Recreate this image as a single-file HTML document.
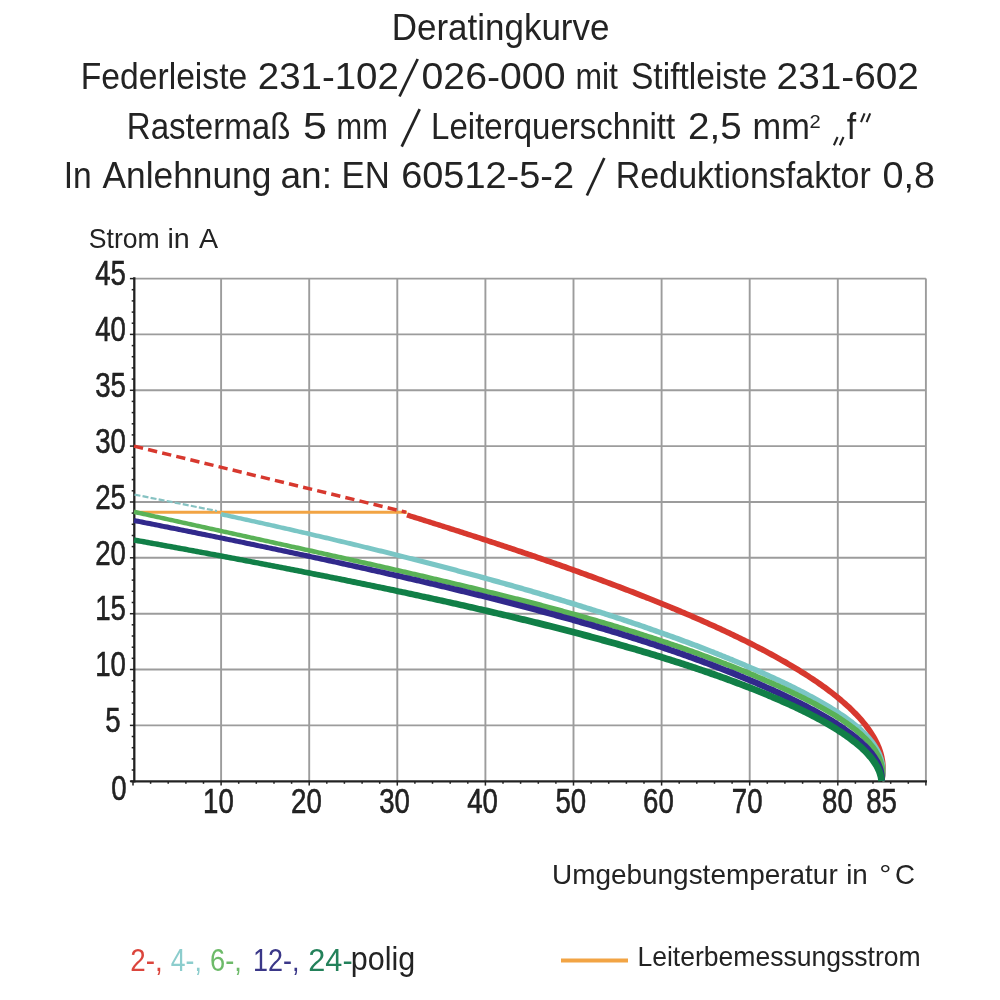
<!DOCTYPE html>
<html><head><meta charset="utf-8"><title>Deratingkurve</title>
<style>
html,body{margin:0;padding:0;background:#fff;}
body{width:1000px;height:1000px;overflow:hidden;font-family:"Liberation Sans",sans-serif;}
svg{display:block;will-change:transform}
text{font-family:"Liberation Sans",sans-serif;fill:#232323}
.t{font-size:35.5px}
.s{font-size:27.5px}
.n{font-size:35px;fill:#151515;stroke:#151515;stroke-width:0.55px}
</style></head><body>
<svg width="1000" height="1000" viewBox="0 0 1000 1000">
<rect width="1000" height="1000" fill="#fff"/>
<!-- text -->
<text x="391.8" y="40.3" font-size="37" textLength="217.6" lengthAdjust="spacingAndGlyphs">Deratingkurve</text>
<text x="80.8" y="88.5" font-size="37" textLength="166.4" lengthAdjust="spacingAndGlyphs">Federleiste</text>
<text x="257.8" y="88.5" font-size="37" textLength="141.1" lengthAdjust="spacingAndGlyphs">231-102</text>
<text x="421.5" y="88.5" font-size="37" textLength="144.0" lengthAdjust="spacingAndGlyphs">026-000</text>
<text x="575.4" y="88.5" font-size="37" textLength="42.5" lengthAdjust="spacingAndGlyphs">mit</text>
<text x="631.0" y="88.5" font-size="37" textLength="136.1" lengthAdjust="spacingAndGlyphs">Stiftleiste</text>
<text x="776.6" y="88.5" font-size="37" textLength="142.3" lengthAdjust="spacingAndGlyphs">231-602</text>
<text x="126.8" y="138.6" font-size="37" textLength="163.6" lengthAdjust="spacingAndGlyphs">Rastermaß</text>
<text x="302.9" y="138.6" font-size="37" textLength="23.9" lengthAdjust="spacingAndGlyphs">5</text>
<text x="336.6" y="138.6" font-size="37" textLength="51.3" lengthAdjust="spacingAndGlyphs">mm</text>
<text x="431.1" y="138.6" font-size="37" textLength="244.1" lengthAdjust="spacingAndGlyphs">Leiterquerschnitt</text>
<text x="688.1" y="138.6" font-size="37" textLength="53.7" lengthAdjust="spacingAndGlyphs">2,5</text>
<text x="752.5" y="138.6" font-size="37" textLength="57.3" lengthAdjust="spacingAndGlyphs">mm</text>
<text x="809.5" y="127.8" font-size="18" textLength="11.2" lengthAdjust="spacingAndGlyphs">2</text>
<text x="846.7" y="138.6" font-size="37" textLength="9.4" lengthAdjust="spacingAndGlyphs">f</text>
<text x="63.8" y="187.5" font-size="37" textLength="28.0" lengthAdjust="spacingAndGlyphs">In</text>
<text x="102.5" y="187.5" font-size="37" textLength="168.9" lengthAdjust="spacingAndGlyphs">Anlehnung</text>
<text x="280.5" y="187.5" font-size="37" textLength="51.5" lengthAdjust="spacingAndGlyphs">an:</text>
<text x="341.5" y="187.5" font-size="37" textLength="48.3" lengthAdjust="spacingAndGlyphs">EN</text>
<text x="401.2" y="187.5" font-size="37" textLength="172.8" lengthAdjust="spacingAndGlyphs">60512-5-2</text>
<text x="615.8" y="187.5" font-size="37" textLength="255.0" lengthAdjust="spacingAndGlyphs">Reduktionsfaktor</text>
<text x="882.4" y="187.5" font-size="37" textLength="52.5" lengthAdjust="spacingAndGlyphs">0,8</text>
<text x="88.8" y="248.4" font-size="28" textLength="70.9" lengthAdjust="spacingAndGlyphs">Strom</text>
<text x="167.5" y="248.4" font-size="28" textLength="22.3" lengthAdjust="spacingAndGlyphs">in</text>
<text x="198.9" y="248.4" font-size="28" textLength="19.1" lengthAdjust="spacingAndGlyphs">A</text>
<text x="552.0" y="884.0" font-size="28" textLength="285.7" lengthAdjust="spacingAndGlyphs">Umgebungstemperatur</text>
<text x="846.2" y="884.0" font-size="28" textLength="21.6" lengthAdjust="spacingAndGlyphs">in</text>
<text x="879.3" y="884.0" font-size="28" textLength="12.1" lengthAdjust="spacingAndGlyphs">°</text>
<text x="895.1" y="884.0" font-size="28" textLength="20.0" lengthAdjust="spacingAndGlyphs">C</text>
<text x="637.4" y="965.5" font-size="28" textLength="283.3" lengthAdjust="spacingAndGlyphs">Leiterbemessungsstrom</text>
<text x="130.3" y="970.8" font-size="31" textLength="32.4" lengthAdjust="spacingAndGlyphs" style="fill:#db453c">2-,</text>
<text x="170.8" y="970.8" font-size="31" textLength="31.0" lengthAdjust="spacingAndGlyphs" style="fill:#8ccdcd">4-,</text>
<text x="210.0" y="970.8" font-size="31" textLength="31.8" lengthAdjust="spacingAndGlyphs" style="fill:#6dba69">6-,</text>
<text x="253.1" y="970.8" font-size="31" textLength="46.5" lengthAdjust="spacingAndGlyphs" style="fill:#3a3788">12-,</text>
<text x="308.3" y="970.8" font-size="31" textLength="44.3" lengthAdjust="spacingAndGlyphs" style="fill:#23815a">24-</text>
<text x="350.8" y="969.8" font-size="33" textLength="64.4" lengthAdjust="spacingAndGlyphs">polig</text>
<line x1="399.5" y1="96.5" x2="417.7" y2="59.0" stroke="#232323" stroke-width="2.7"/>
<line x1="401.7" y1="146.6" x2="419.7" y2="109.1" stroke="#232323" stroke-width="2.7"/>
<line x1="586.9" y1="195.5" x2="604.3" y2="158.0" stroke="#232323" stroke-width="2.7"/>
<line x1="861.0" y1="122.2" x2="864.6" y2="113.4" stroke="#232323" stroke-width="2.1"/>
<line x1="866.6" y1="122.2" x2="870.2" y2="113.4" stroke="#232323" stroke-width="2.1"/>
<line x1="833.9" y1="145.3" x2="837.6" y2="137.0" stroke="#232323" stroke-width="2.1"/>
<line x1="839.8" y1="145.3" x2="843.5" y2="137.0" stroke="#232323" stroke-width="2.1"/>
<!-- grid -->
<g stroke="#9c9c9c" stroke-width="1.9" fill="none">
<line x1="221.1" y1="278.6" x2="221.1" y2="781.2"/>
<line x1="309.2" y1="278.6" x2="309.2" y2="781.2"/>
<line x1="397.3" y1="278.6" x2="397.3" y2="781.2"/>
<line x1="485.4" y1="278.6" x2="485.4" y2="781.2"/>
<line x1="573.5" y1="278.6" x2="573.5" y2="781.2"/>
<line x1="661.6" y1="278.6" x2="661.6" y2="781.2"/>
<line x1="749.7" y1="278.6" x2="749.7" y2="781.2"/>
<line x1="837.8" y1="278.6" x2="837.8" y2="781.2"/>
<line x1="925.9" y1="278.6" x2="925.9" y2="781.2"/>
<line x1="133.0" y1="725.4" x2="925.9" y2="725.4"/>
<line x1="133.0" y1="669.5" x2="925.9" y2="669.5"/>
<line x1="133.0" y1="613.7" x2="925.9" y2="613.7"/>
<line x1="133.0" y1="557.8" x2="925.9" y2="557.8"/>
<line x1="133.0" y1="502.0" x2="925.9" y2="502.0"/>
<line x1="133.0" y1="446.1" x2="925.9" y2="446.1"/>
<line x1="133.0" y1="390.3" x2="925.9" y2="390.3"/>
<line x1="133.0" y1="334.4" x2="925.9" y2="334.4"/>
<line x1="133.0" y1="278.6" x2="925.9" y2="278.6"/>
</g>
<!-- axes -->
<g stroke="#222" stroke-width="2.3" fill="none" stroke-linecap="butt">
<line x1="134.3" y1="277.3" x2="134.3" y2="782.5"/>
<line x1="130.5" y1="781.4" x2="927" y2="781.4"/>
</g>
<g stroke="#222" stroke-width="1.5" fill="none">
<line x1="129.9" y1="781.2" x2="134.5" y2="781.2"/>
<line x1="131.7" y1="770.0" x2="134.5" y2="770.0"/>
<line x1="131.7" y1="758.9" x2="134.5" y2="758.9"/>
<line x1="131.7" y1="747.7" x2="134.5" y2="747.7"/>
<line x1="131.7" y1="736.5" x2="134.5" y2="736.5"/>
<line x1="129.9" y1="725.4" x2="134.5" y2="725.4"/>
<line x1="131.7" y1="714.2" x2="134.5" y2="714.2"/>
<line x1="131.7" y1="703.0" x2="134.5" y2="703.0"/>
<line x1="131.7" y1="691.8" x2="134.5" y2="691.8"/>
<line x1="131.7" y1="680.7" x2="134.5" y2="680.7"/>
<line x1="129.9" y1="669.5" x2="134.5" y2="669.5"/>
<line x1="131.7" y1="658.3" x2="134.5" y2="658.3"/>
<line x1="131.7" y1="647.2" x2="134.5" y2="647.2"/>
<line x1="131.7" y1="636.0" x2="134.5" y2="636.0"/>
<line x1="131.7" y1="624.8" x2="134.5" y2="624.8"/>
<line x1="129.9" y1="613.7" x2="134.5" y2="613.7"/>
<line x1="131.7" y1="602.5" x2="134.5" y2="602.5"/>
<line x1="131.7" y1="591.3" x2="134.5" y2="591.3"/>
<line x1="131.7" y1="580.1" x2="134.5" y2="580.1"/>
<line x1="131.7" y1="569.0" x2="134.5" y2="569.0"/>
<line x1="129.9" y1="557.8" x2="134.5" y2="557.8"/>
<line x1="131.7" y1="546.6" x2="134.5" y2="546.6"/>
<line x1="131.7" y1="535.5" x2="134.5" y2="535.5"/>
<line x1="131.7" y1="524.3" x2="134.5" y2="524.3"/>
<line x1="131.7" y1="513.1" x2="134.5" y2="513.1"/>
<line x1="129.9" y1="502.0" x2="134.5" y2="502.0"/>
<line x1="131.7" y1="490.8" x2="134.5" y2="490.8"/>
<line x1="131.7" y1="479.6" x2="134.5" y2="479.6"/>
<line x1="131.7" y1="468.4" x2="134.5" y2="468.4"/>
<line x1="131.7" y1="457.3" x2="134.5" y2="457.3"/>
<line x1="129.9" y1="446.1" x2="134.5" y2="446.1"/>
<line x1="131.7" y1="434.9" x2="134.5" y2="434.9"/>
<line x1="131.7" y1="423.8" x2="134.5" y2="423.8"/>
<line x1="131.7" y1="412.6" x2="134.5" y2="412.6"/>
<line x1="131.7" y1="401.4" x2="134.5" y2="401.4"/>
<line x1="129.9" y1="390.3" x2="134.5" y2="390.3"/>
<line x1="131.7" y1="379.1" x2="134.5" y2="379.1"/>
<line x1="131.7" y1="367.9" x2="134.5" y2="367.9"/>
<line x1="131.7" y1="356.7" x2="134.5" y2="356.7"/>
<line x1="131.7" y1="345.6" x2="134.5" y2="345.6"/>
<line x1="129.9" y1="334.4" x2="134.5" y2="334.4"/>
<line x1="131.7" y1="323.2" x2="134.5" y2="323.2"/>
<line x1="131.7" y1="312.1" x2="134.5" y2="312.1"/>
<line x1="131.7" y1="300.9" x2="134.5" y2="300.9"/>
<line x1="131.7" y1="289.7" x2="134.5" y2="289.7"/>
<line x1="129.9" y1="278.6" x2="134.5" y2="278.6"/>
<line x1="133.0" y1="781.2" x2="133.0" y2="785.6"/>
<line x1="150.6" y1="781.2" x2="150.6" y2="783.8"/>
<line x1="168.2" y1="781.2" x2="168.2" y2="783.8"/>
<line x1="185.9" y1="781.2" x2="185.9" y2="783.8"/>
<line x1="203.5" y1="781.2" x2="203.5" y2="783.8"/>
<line x1="221.1" y1="781.2" x2="221.1" y2="785.6"/>
<line x1="238.7" y1="781.2" x2="238.7" y2="783.8"/>
<line x1="256.3" y1="781.2" x2="256.3" y2="783.8"/>
<line x1="274.0" y1="781.2" x2="274.0" y2="783.8"/>
<line x1="291.6" y1="781.2" x2="291.6" y2="783.8"/>
<line x1="309.2" y1="781.2" x2="309.2" y2="785.6"/>
<line x1="326.8" y1="781.2" x2="326.8" y2="783.8"/>
<line x1="344.4" y1="781.2" x2="344.4" y2="783.8"/>
<line x1="362.1" y1="781.2" x2="362.1" y2="783.8"/>
<line x1="379.7" y1="781.2" x2="379.7" y2="783.8"/>
<line x1="397.3" y1="781.2" x2="397.3" y2="785.6"/>
<line x1="414.9" y1="781.2" x2="414.9" y2="783.8"/>
<line x1="432.5" y1="781.2" x2="432.5" y2="783.8"/>
<line x1="450.2" y1="781.2" x2="450.2" y2="783.8"/>
<line x1="467.8" y1="781.2" x2="467.8" y2="783.8"/>
<line x1="485.4" y1="781.2" x2="485.4" y2="785.6"/>
<line x1="503.0" y1="781.2" x2="503.0" y2="783.8"/>
<line x1="520.6" y1="781.2" x2="520.6" y2="783.8"/>
<line x1="538.3" y1="781.2" x2="538.3" y2="783.8"/>
<line x1="555.9" y1="781.2" x2="555.9" y2="783.8"/>
<line x1="573.5" y1="781.2" x2="573.5" y2="785.6"/>
<line x1="591.1" y1="781.2" x2="591.1" y2="783.8"/>
<line x1="608.7" y1="781.2" x2="608.7" y2="783.8"/>
<line x1="626.4" y1="781.2" x2="626.4" y2="783.8"/>
<line x1="644.0" y1="781.2" x2="644.0" y2="783.8"/>
<line x1="661.6" y1="781.2" x2="661.6" y2="785.6"/>
<line x1="679.2" y1="781.2" x2="679.2" y2="783.8"/>
<line x1="696.8" y1="781.2" x2="696.8" y2="783.8"/>
<line x1="714.5" y1="781.2" x2="714.5" y2="783.8"/>
<line x1="732.1" y1="781.2" x2="732.1" y2="783.8"/>
<line x1="749.7" y1="781.2" x2="749.7" y2="785.6"/>
<line x1="767.3" y1="781.2" x2="767.3" y2="783.8"/>
<line x1="784.9" y1="781.2" x2="784.9" y2="783.8"/>
<line x1="802.6" y1="781.2" x2="802.6" y2="783.8"/>
<line x1="820.2" y1="781.2" x2="820.2" y2="783.8"/>
<line x1="837.8" y1="781.2" x2="837.8" y2="785.6"/>
<line x1="855.4" y1="781.2" x2="855.4" y2="783.8"/>
<line x1="873.0" y1="781.2" x2="873.0" y2="783.8"/>
<line x1="890.7" y1="781.2" x2="890.7" y2="783.8"/>
<line x1="908.3" y1="781.2" x2="908.3" y2="783.8"/>
<line x1="925.9" y1="781.2" x2="925.9" y2="785.6"/>
</g>
<!-- rated current -->
<line x1="134" y1="512.2" x2="407" y2="512.2" stroke="#f2a444" stroke-width="3"/>
<!-- dashed extrapolations -->
<line x1="134" y1="446.1" x2="406" y2="512.2" stroke="#d7382e" stroke-width="3.5" stroke-dasharray="9.3 5.2"/>
<line x1="134.5" y1="494.6" x2="217" y2="511" stroke="#86c2c2" stroke-width="2.2" stroke-dasharray="6 2.2"/>
<!-- curves -->
<g stroke="none">
<path d="M406.2 517.5 L408.1 518.1 L410.0 518.7 L412.0 519.3 L413.9 519.9 L415.8 520.5 L417.7 521.1 L419.6 521.7 L421.5 522.3 L423.4 522.9 L425.3 523.5 L427.2 524.1 L429.1 524.7 L431.0 525.3 L432.9 525.9 L434.8 526.5 L436.7 527.1 L438.6 527.7 L440.5 528.3 L442.4 528.9 L444.3 529.5 L446.2 530.1 L448.1 530.8 L450.0 531.4 L451.9 532.0 L453.8 532.6 L455.7 533.2 L457.6 533.8 L459.5 534.4 L461.4 535.0 L463.3 535.7 L465.2 536.3 L467.1 536.9 L469.0 537.5 L470.9 538.1 L472.8 538.8 L474.7 539.4 L476.6 540.0 L478.5 540.6 L480.4 541.2 L482.3 541.9 L484.2 542.5 L486.1 543.1 L488.0 543.7 L489.9 544.4 L491.8 545.0 L493.7 545.6 L495.6 546.3 L497.5 546.9 L499.4 547.5 L501.2 548.2 L503.1 548.8 L505.0 549.4 L506.9 550.1 L508.8 550.7 L510.7 551.3 L512.6 552.0 L514.5 552.6 L516.4 553.3 L518.3 553.9 L520.2 554.6 L522.0 555.2 L523.9 555.8 L525.8 556.5 L527.7 557.1 L529.6 557.8 L531.5 558.4 L533.4 559.1 L535.3 559.7 L537.2 560.4 L539.0 561.0 L540.9 561.7 L542.8 562.3 L544.7 563.0 L546.6 563.7 L548.5 564.3 L550.4 565.0 L552.2 565.6 L554.1 566.3 L556.0 567.0 L557.9 567.6 L559.8 568.3 L561.6 568.9 L563.5 569.6 L565.4 570.3 L567.3 570.9 L569.2 571.6 L571.1 572.3 L572.9 573.0 L574.8 573.6 L576.7 574.3 L578.6 575.0 L580.4 575.7 L582.3 576.3 L584.2 577.0 L586.1 577.7 L587.9 578.4 L589.8 579.1 L591.7 579.8 L593.6 580.4 L595.4 581.1 L597.3 581.8 L599.2 582.5 L601.1 583.2 L602.9 583.9 L604.8 584.6 L606.7 585.3 L608.5 586.0 L610.4 586.7 L612.3 587.4 L614.1 588.1 L616.0 588.8 L617.9 589.5 L619.7 590.2 L621.6 590.9 L623.5 591.7 L625.3 592.4 L627.2 593.1 L629.0 593.8 L630.9 594.5 L632.8 595.2 L634.6 596.0 L636.5 596.7 L638.3 597.4 L640.2 598.2 L642.1 598.9 L643.9 599.6 L645.8 600.4 L647.6 601.1 L649.5 601.8 L651.3 602.6 L653.2 603.3 L655.0 604.1 L656.9 604.8 L658.7 605.5 L660.6 606.3 L662.4 607.1 L664.3 607.8 L666.1 608.6 L668.0 609.3 L669.8 610.1 L671.6 610.9 L673.5 611.6 L675.3 612.4 L677.2 613.2 L679.0 613.9 L680.8 614.7 L682.7 615.5 L684.5 616.3 L686.3 617.1 L688.2 617.8 L690.0 618.6 L691.8 619.4 L693.7 620.2 L695.5 621.0 L697.3 621.8 L699.1 622.6 L701.0 623.4 L702.8 624.2 L704.6 625.0 L706.4 625.8 L708.2 626.7 L710.1 627.5 L711.9 628.3 L713.7 629.1 L715.5 629.9 L717.3 630.8 L719.1 631.6 L720.9 632.4 L722.7 633.3 L724.5 634.1 L726.4 635.0 L728.2 635.8 L730.0 636.7 L731.8 637.5 L733.5 638.4 L735.3 639.3 L737.1 640.1 L738.9 641.0 L740.7 641.9 L742.5 642.8 L744.3 643.6 L746.1 644.5 L747.9 645.4 L749.6 646.3 L751.4 647.2 L753.2 648.1 L755.0 649.0 L756.7 649.9 L758.5 650.9 L760.3 651.8 L762.0 652.7 L763.8 653.6 L765.5 654.6 L767.3 655.5 L769.0 656.4 L770.8 657.4 L772.5 658.3 L774.3 659.3 L776.0 660.3 L777.8 661.2 L779.5 662.2 L781.2 663.2 L782.9 664.2 L784.7 665.2 L786.4 666.2 L788.1 667.2 L789.8 668.2 L791.5 669.2 L793.2 670.2 L794.9 671.2 L796.6 672.3 L798.3 673.3 L800.0 674.4 L801.7 675.4 L803.4 676.5 L805.0 677.6 L806.7 678.6 L808.4 679.7 L810.0 680.8 L811.7 681.9 L813.3 683.0 L815.0 684.1 L816.6 685.3 L818.2 686.4 L819.8 687.5 L821.4 688.7 L823.0 689.8 L824.6 691.0 L826.2 692.2 L827.8 693.4 L829.4 694.6 L831.0 695.8 L832.5 697.0 L834.1 698.2 L835.6 699.5 L837.1 700.7 L838.6 702.0 L840.1 703.3 L841.6 704.6 L843.1 705.9 L844.6 707.2 L846.0 708.5 L847.5 709.8 L848.9 711.2 L850.3 712.6 L851.7 714.0 L853.1 715.4 L854.5 716.8 L855.8 718.2 L857.1 719.6 L858.4 721.1 L859.7 722.6 L861.0 724.1 L862.2 725.6 L863.4 727.1 L864.6 728.7 L865.7 730.2 L866.9 731.8 L868.0 733.4 L869.0 735.1 L870.1 736.7 L871.0 738.4 L872.0 740.0 L872.9 741.7 L873.8 743.5 L874.6 745.2 L875.4 747.0 L876.1 748.7 L876.7 750.5 L877.4 752.3 L877.9 754.2 L878.4 756.0 L878.9 757.8 L879.2 759.7 L879.5 761.6 L879.8 763.5 L879.9 765.3 L880.0 767.2 L880.1 769.1 L880.0 771.0 L879.9 772.9 L879.7 774.8 L879.5 776.6 L879.2 778.5 L878.8 780.4 L884.4 781.6 L884.9 779.6 L885.2 777.5 L885.5 775.4 L885.7 773.3 L885.8 771.2 L885.9 769.1 L885.8 767.0 L885.7 764.9 L885.5 762.8 L885.3 760.7 L884.9 758.7 L884.5 756.6 L884.0 754.6 L883.5 752.5 L882.9 750.5 L882.2 748.6 L881.5 746.6 L880.7 744.7 L879.9 742.8 L879.0 740.9 L878.0 739.1 L877.1 737.2 L876.1 735.5 L875.0 733.7 L873.9 731.9 L872.8 730.2 L871.6 728.5 L870.4 726.8 L869.2 725.2 L868.0 723.6 L866.7 722.0 L865.4 720.4 L864.1 718.8 L862.8 717.3 L861.4 715.8 L860.1 714.3 L858.7 712.8 L857.3 711.3 L855.8 709.9 L854.4 708.4 L852.9 707.0 L851.5 705.6 L850.0 704.2 L848.5 702.9 L847.0 701.5 L845.4 700.2 L843.9 698.9 L842.4 697.6 L840.8 696.3 L839.3 695.0 L837.7 693.7 L836.1 692.5 L834.5 691.2 L832.9 690.0 L831.3 688.8 L829.7 687.5 L828.1 686.3 L826.5 685.1 L824.8 684.0 L823.2 682.8 L821.5 681.6 L819.9 680.5 L818.2 679.3 L816.6 678.2 L814.9 677.1 L813.2 676.0 L811.5 674.9 L809.9 673.8 L808.2 672.7 L806.5 671.6 L804.8 670.5 L803.1 669.5 L801.4 668.4 L799.7 667.3 L797.9 666.3 L796.2 665.2 L794.5 664.2 L792.8 663.2 L791.0 662.2 L789.3 661.2 L787.6 660.1 L785.8 659.1 L784.1 658.2 L782.3 657.2 L780.6 656.2 L778.8 655.2 L777.1 654.2 L775.3 653.3 L773.6 652.3 L771.8 651.3 L770.0 650.4 L768.3 649.4 L766.5 648.5 L764.7 647.6 L762.9 646.6 L761.2 645.7 L759.4 644.8 L757.6 643.9 L755.8 643.0 L754.0 642.0 L752.2 641.1 L750.5 640.2 L748.7 639.3 L746.9 638.4 L745.1 637.6 L743.3 636.7 L741.5 635.8 L739.7 634.9 L737.9 634.0 L736.1 633.2 L734.3 632.3 L732.4 631.4 L730.6 630.6 L728.8 629.7 L727.0 628.9 L725.2 628.0 L723.4 627.2 L721.6 626.3 L719.7 625.5 L717.9 624.7 L716.1 623.8 L714.3 623.0 L712.4 622.2 L710.6 621.4 L708.8 620.5 L707.0 619.7 L705.1 618.9 L703.3 618.1 L701.5 617.3 L699.6 616.5 L697.8 615.7 L696.0 614.9 L694.1 614.1 L692.3 613.3 L690.5 612.5 L688.6 611.7 L686.8 610.9 L684.9 610.1 L683.1 609.4 L681.2 608.6 L679.4 607.8 L677.6 607.0 L675.7 606.3 L673.9 605.5 L672.0 604.7 L670.2 604.0 L668.3 603.2 L666.5 602.4 L664.6 601.7 L662.8 600.9 L660.9 600.2 L659.0 599.4 L657.2 598.7 L655.3 597.9 L653.5 597.2 L651.6 596.4 L649.8 595.7 L647.9 595.0 L646.0 594.2 L644.2 593.5 L642.3 592.8 L640.5 592.0 L638.6 591.3 L636.7 590.6 L634.9 589.8 L633.0 589.1 L631.1 588.4 L629.3 587.7 L627.4 587.0 L625.5 586.2 L623.7 585.5 L621.8 584.8 L619.9 584.1 L618.1 583.4 L616.2 582.7 L614.3 582.0 L612.4 581.3 L610.6 580.6 L608.7 579.9 L606.8 579.2 L604.9 578.5 L603.1 577.8 L601.2 577.1 L599.3 576.4 L597.4 575.7 L595.6 575.0 L593.7 574.3 L591.8 573.6 L589.9 572.9 L588.1 572.3 L586.2 571.6 L584.3 570.9 L582.4 570.2 L580.5 569.5 L578.7 568.8 L576.8 568.2 L574.9 567.5 L573.0 566.8 L571.1 566.2 L569.2 565.5 L567.4 564.8 L565.5 564.1 L563.6 563.5 L561.7 562.8 L559.8 562.1 L557.9 561.5 L556.0 560.8 L554.2 560.2 L552.3 559.5 L550.4 558.8 L548.5 558.2 L546.6 557.5 L544.7 556.9 L542.8 556.2 L540.9 555.6 L539.0 554.9 L537.1 554.3 L535.3 553.6 L533.4 553.0 L531.5 552.3 L529.6 551.7 L527.7 551.1 L525.8 550.4 L523.9 549.8 L522.0 549.1 L520.1 548.5 L518.2 547.9 L516.3 547.2 L514.4 546.6 L512.5 546.0 L510.6 545.3 L508.7 544.7 L506.8 544.1 L504.9 543.4 L503.0 542.8 L501.1 542.2 L499.2 541.6 L497.3 540.9 L495.4 540.3 L493.5 539.7 L491.6 539.1 L489.7 538.4 L487.8 537.8 L485.9 537.2 L484.0 536.6 L482.1 536.0 L480.2 535.3 L478.3 534.7 L476.4 534.1 L474.5 533.5 L472.6 532.9 L470.7 532.3 L468.8 531.7 L466.9 531.1 L465.0 530.4 L463.1 529.8 L461.2 529.2 L459.3 528.6 L457.4 528.0 L455.5 527.4 L453.6 526.8 L451.7 526.2 L449.8 525.6 L447.9 525.0 L446.0 524.4 L444.0 523.8 L442.1 523.2 L440.2 522.6 L438.3 522.0 L436.4 521.4 L434.5 520.8 L432.6 520.2 L430.7 519.6 L428.8 519.0 L426.9 518.4 L425.0 517.8 L423.1 517.2 L421.2 516.6 L419.2 516.0 L417.3 515.4 L415.4 514.8 L413.5 514.3 L411.6 513.7 L409.7 513.1 L407.8 512.5Z" fill="#d7382e"/>
<path d="M220.5 516.4 L222.5 516.8 L224.4 517.2 L226.4 517.6 L228.3 518.0 L230.3 518.5 L232.2 518.9 L234.2 519.3 L236.1 519.7 L238.1 520.2 L240.1 520.6 L242.0 521.0 L244.0 521.5 L245.9 521.9 L247.9 522.3 L249.8 522.7 L251.8 523.2 L253.7 523.6 L255.7 524.0 L257.6 524.5 L259.6 524.9 L261.5 525.3 L263.5 525.8 L265.4 526.2 L267.4 526.7 L269.3 527.1 L271.2 527.5 L273.2 528.0 L275.1 528.4 L277.1 528.9 L279.0 529.3 L281.0 529.8 L282.9 530.2 L284.9 530.7 L286.8 531.1 L288.8 531.5 L290.7 532.0 L292.7 532.4 L294.6 532.9 L296.6 533.3 L298.5 533.8 L300.5 534.2 L302.4 534.7 L304.3 535.1 L306.3 535.6 L308.2 536.1 L310.2 536.5 L312.1 537.0 L314.1 537.4 L316.0 537.9 L318.0 538.3 L319.9 538.8 L321.9 539.2 L323.8 539.7 L325.7 540.2 L327.7 540.6 L329.6 541.1 L331.6 541.6 L333.5 542.0 L335.5 542.5 L337.4 542.9 L339.3 543.4 L341.3 543.9 L343.2 544.3 L345.2 544.8 L347.1 545.3 L349.0 545.7 L351.0 546.2 L352.9 546.7 L354.9 547.2 L356.8 547.6 L358.8 548.1 L360.7 548.6 L362.6 549.1 L364.6 549.5 L366.5 550.0 L368.5 550.5 L370.4 551.0 L372.3 551.4 L374.3 551.9 L376.2 552.4 L378.1 552.9 L380.1 553.4 L382.0 553.8 L384.0 554.3 L385.9 554.8 L387.8 555.3 L389.8 555.8 L391.7 556.3 L393.6 556.8 L395.6 557.2 L397.5 557.7 L399.5 558.2 L401.4 558.7 L403.3 559.2 L405.3 559.7 L407.2 560.2 L409.1 560.7 L411.1 561.2 L413.0 561.7 L414.9 562.2 L416.9 562.7 L418.8 563.2 L420.7 563.7 L422.7 564.2 L424.6 564.7 L426.5 565.2 L428.5 565.7 L430.4 566.2 L432.3 566.7 L434.3 567.2 L436.2 567.7 L438.1 568.2 L440.1 568.7 L442.0 569.2 L443.9 569.8 L445.9 570.3 L447.8 570.8 L449.7 571.3 L451.6 571.8 L453.6 572.3 L455.5 572.8 L457.4 573.4 L459.4 573.9 L461.3 574.4 L463.2 574.9 L465.1 575.4 L467.1 576.0 L469.0 576.5 L470.9 577.0 L472.8 577.5 L474.8 578.1 L476.7 578.6 L478.6 579.1 L480.6 579.7 L482.5 580.2 L484.4 580.7 L486.3 581.3 L488.2 581.8 L490.2 582.3 L492.1 582.9 L494.0 583.4 L495.9 583.9 L497.9 584.5 L499.8 585.0 L501.7 585.6 L503.6 586.1 L505.5 586.7 L507.5 587.2 L509.4 587.7 L511.3 588.3 L513.2 588.8 L515.1 589.4 L517.1 589.9 L519.0 590.5 L520.9 591.1 L522.8 591.6 L524.7 592.2 L526.7 592.7 L528.6 593.3 L530.5 593.8 L532.4 594.4 L534.3 595.0 L536.2 595.5 L538.1 596.1 L540.1 596.7 L542.0 597.2 L543.9 597.8 L545.8 598.4 L547.7 598.9 L549.6 599.5 L551.5 600.1 L553.5 600.7 L555.4 601.2 L557.3 601.8 L559.2 602.4 L561.1 603.0 L563.0 603.5 L564.9 604.1 L566.8 604.7 L568.7 605.3 L570.7 605.9 L572.6 606.5 L574.5 607.0 L576.4 607.6 L578.3 608.2 L580.2 608.8 L582.1 609.4 L584.0 610.0 L585.9 610.6 L587.8 611.2 L589.7 611.8 L591.6 612.4 L593.5 613.0 L595.4 613.6 L597.3 614.2 L599.2 614.8 L601.1 615.4 L603.0 616.1 L604.9 616.7 L606.8 617.3 L608.7 617.9 L610.6 618.5 L612.5 619.1 L614.4 619.8 L616.3 620.4 L618.2 621.0 L620.1 621.6 L622.0 622.3 L623.9 622.9 L625.8 623.5 L627.7 624.2 L629.6 624.8 L631.5 625.4 L633.3 626.1 L635.2 626.7 L637.1 627.3 L639.0 628.0 L640.9 628.6 L642.8 629.3 L644.7 629.9 L646.6 630.6 L648.4 631.2 L650.3 631.9 L652.2 632.6 L654.1 633.2 L656.0 633.9 L657.9 634.5 L659.7 635.2 L661.6 635.9 L663.5 636.5 L665.4 637.2 L667.3 637.9 L669.1 638.6 L671.0 639.2 L672.9 639.9 L674.8 640.6 L676.6 641.3 L678.5 642.0 L680.4 642.7 L682.3 643.4 L684.1 644.1 L686.0 644.8 L687.9 645.5 L689.7 646.2 L691.6 646.9 L693.5 647.6 L695.3 648.3 L697.2 649.0 L699.1 649.7 L700.9 650.4 L702.8 651.1 L704.6 651.9 L706.5 652.6 L708.3 653.3 L710.2 654.0 L712.1 654.8 L713.9 655.5 L715.8 656.2 L717.6 657.0 L719.5 657.7 L721.3 658.5 L723.2 659.2 L725.0 660.0 L726.9 660.7 L728.7 661.5 L730.6 662.2 L732.4 663.0 L734.2 663.8 L736.1 664.5 L737.9 665.3 L739.8 666.1 L741.6 666.8 L743.4 667.6 L745.3 668.4 L747.1 669.2 L748.9 670.0 L750.7 670.8 L752.6 671.6 L754.4 672.4 L756.2 673.2 L758.0 674.0 L759.9 674.8 L761.7 675.6 L763.5 676.4 L765.3 677.2 L767.1 678.1 L769.0 678.9 L770.8 679.7 L772.6 680.6 L774.4 681.4 L776.2 682.2 L778.0 683.1 L779.8 683.9 L781.6 684.8 L783.4 685.7 L785.2 686.5 L787.0 687.4 L788.8 688.3 L790.5 689.1 L792.3 690.0 L794.1 690.9 L795.9 691.8 L797.7 692.7 L799.4 693.6 L801.2 694.5 L803.0 695.4 L804.7 696.4 L806.5 697.3 L808.2 698.2 L810.0 699.2 L811.7 700.1 L813.5 701.1 L815.2 702.0 L817.0 703.0 L818.7 704.0 L820.4 705.0 L822.1 705.9 L823.8 706.9 L825.5 708.0 L827.2 709.0 L828.9 710.0 L830.6 711.0 L832.3 712.1 L834.0 713.2 L835.6 714.2 L837.3 715.3 L838.9 716.4 L840.6 717.5 L842.2 718.6 L843.8 719.8 L845.4 720.9 L847.0 722.1 L848.6 723.3 L850.1 724.5 L851.7 725.7 L853.2 726.9 L854.7 728.2 L856.2 729.4 L857.7 730.7 L859.1 732.0 L860.6 733.4 L862.0 734.7 L863.3 736.1 L864.7 737.5 L866.0 738.9 L867.2 740.4 L868.5 741.9 L869.7 743.4 L870.8 744.9 L871.9 746.5 L872.9 748.1 L873.9 749.7 L874.9 751.4 L875.7 753.1 L876.5 754.8 L877.3 756.5 L877.9 758.3 L878.5 760.1 L879.0 761.9 L879.4 763.7 L879.7 765.5 L880.0 767.4 L880.1 769.2 L880.1 771.1 L880.1 773.0 L879.9 774.8 L879.7 776.7 L879.3 778.5 L878.9 780.4 L884.3 781.6 L884.7 779.6 L885.1 777.5 L885.4 775.4 L885.6 773.3 L885.6 771.1 L885.6 769.0 L885.4 766.9 L885.2 764.7 L884.8 762.6 L884.3 760.6 L883.8 758.5 L883.1 756.5 L882.4 754.5 L881.6 752.6 L880.7 750.7 L879.7 748.8 L878.7 747.0 L877.6 745.2 L876.5 743.4 L875.3 741.7 L874.0 740.1 L872.7 738.4 L871.4 736.8 L870.1 735.3 L868.7 733.8 L867.3 732.3 L865.8 730.8 L864.3 729.4 L862.9 728.0 L861.3 726.6 L859.8 725.3 L858.3 724.0 L856.7 722.7 L855.1 721.4 L853.5 720.1 L851.9 718.9 L850.3 717.7 L848.6 716.5 L847.0 715.3 L845.3 714.1 L843.7 713.0 L842.0 711.9 L840.3 710.7 L838.6 709.6 L836.9 708.5 L835.2 707.4 L833.5 706.4 L831.8 705.3 L830.1 704.3 L828.4 703.2 L826.6 702.2 L824.9 701.2 L823.2 700.2 L821.4 699.2 L819.7 698.2 L817.9 697.2 L816.1 696.2 L814.4 695.3 L812.6 694.3 L810.8 693.4 L809.1 692.4 L807.3 691.5 L805.5 690.6 L803.7 689.6 L801.9 688.7 L800.2 687.8 L798.4 686.9 L796.6 686.0 L794.8 685.1 L793.0 684.2 L791.2 683.3 L789.4 682.4 L787.6 681.6 L785.8 680.7 L784.0 679.8 L782.1 679.0 L780.3 678.1 L778.5 677.3 L776.7 676.4 L774.9 675.6 L773.1 674.7 L771.2 673.9 L769.4 673.1 L767.6 672.2 L765.8 671.4 L763.9 670.6 L762.1 669.8 L760.3 669.0 L758.4 668.1 L756.6 667.3 L754.8 666.5 L752.9 665.7 L751.1 664.9 L749.3 664.1 L747.4 663.4 L745.6 662.6 L743.7 661.8 L741.9 661.0 L740.0 660.2 L738.2 659.4 L736.4 658.7 L734.5 657.9 L732.7 657.1 L730.8 656.4 L728.9 655.6 L727.1 654.9 L725.2 654.1 L723.4 653.4 L721.5 652.6 L719.7 651.9 L717.8 651.1 L715.9 650.4 L714.1 649.6 L712.2 648.9 L710.4 648.2 L708.5 647.5 L706.6 646.7 L704.8 646.0 L702.9 645.3 L701.0 644.6 L699.2 643.8 L697.3 643.1 L695.4 642.4 L693.5 641.7 L691.7 641.0 L689.8 640.3 L687.9 639.6 L686.0 638.9 L684.2 638.2 L682.3 637.5 L680.4 636.8 L678.5 636.1 L676.6 635.4 L674.8 634.8 L672.9 634.1 L671.0 633.4 L669.1 632.7 L667.2 632.0 L665.4 631.4 L663.5 630.7 L661.6 630.0 L659.7 629.4 L657.8 628.7 L655.9 628.0 L654.0 627.4 L652.1 626.7 L650.3 626.0 L648.4 625.4 L646.5 624.7 L644.6 624.1 L642.7 623.4 L640.8 622.8 L638.9 622.1 L637.0 621.5 L635.1 620.9 L633.2 620.2 L631.3 619.6 L629.4 618.9 L627.5 618.3 L625.6 617.7 L623.7 617.0 L621.8 616.4 L619.9 615.8 L618.0 615.2 L616.1 614.5 L614.2 613.9 L612.3 613.3 L610.4 612.7 L608.5 612.0 L606.6 611.4 L604.7 610.8 L602.8 610.2 L600.9 609.6 L599.0 609.0 L597.1 608.4 L595.2 607.8 L593.3 607.2 L591.4 606.6 L589.5 606.0 L587.5 605.4 L585.6 604.8 L583.7 604.2 L581.8 603.6 L579.9 603.0 L578.0 602.4 L576.1 601.8 L574.2 601.2 L572.3 600.6 L570.4 600.0 L568.4 599.4 L566.5 598.9 L564.6 598.3 L562.7 597.7 L560.8 597.1 L558.9 596.5 L557.0 596.0 L555.0 595.4 L553.1 594.8 L551.2 594.2 L549.3 593.7 L547.4 593.1 L545.5 592.5 L543.5 592.0 L541.6 591.4 L539.7 590.8 L537.8 590.3 L535.9 589.7 L533.9 589.2 L532.0 588.6 L530.1 588.0 L528.2 587.5 L526.2 586.9 L524.3 586.4 L522.4 585.8 L520.5 585.3 L518.6 584.7 L516.6 584.2 L514.7 583.7 L512.8 583.1 L510.9 582.6 L508.9 582.0 L507.0 581.5 L505.1 580.9 L503.2 580.4 L501.2 579.9 L499.3 579.3 L497.4 578.8 L495.4 578.3 L493.5 577.7 L491.6 577.2 L489.7 576.7 L487.7 576.2 L485.8 575.6 L483.9 575.1 L481.9 574.6 L480.0 574.0 L478.1 573.5 L476.2 573.0 L474.2 572.5 L472.3 572.0 L470.4 571.4 L468.4 570.9 L466.5 570.4 L464.6 569.9 L462.6 569.4 L460.7 568.9 L458.8 568.4 L456.8 567.8 L454.9 567.3 L453.0 566.8 L451.0 566.3 L449.1 565.8 L447.2 565.3 L445.2 564.8 L443.3 564.3 L441.4 563.8 L439.4 563.3 L437.5 562.8 L435.6 562.3 L433.6 561.8 L431.7 561.3 L429.7 560.8 L427.8 560.3 L425.9 559.8 L423.9 559.3 L422.0 558.8 L420.1 558.3 L418.1 557.8 L416.2 557.3 L414.2 556.8 L412.3 556.3 L410.4 555.9 L408.4 555.4 L406.5 554.9 L404.5 554.4 L402.6 553.9 L400.7 553.4 L398.7 552.9 L396.8 552.5 L394.8 552.0 L392.9 551.5 L391.0 551.0 L389.0 550.5 L387.1 550.1 L385.1 549.6 L383.2 549.1 L381.3 548.6 L379.3 548.2 L377.4 547.7 L375.4 547.2 L373.5 546.7 L371.5 546.3 L369.6 545.8 L367.7 545.3 L365.7 544.9 L363.8 544.4 L361.8 543.9 L359.9 543.5 L357.9 543.0 L356.0 542.5 L354.0 542.1 L352.1 541.6 L350.2 541.1 L348.2 540.7 L346.3 540.2 L344.3 539.7 L342.4 539.3 L340.4 538.8 L338.5 538.4 L336.5 537.9 L334.6 537.5 L332.6 537.0 L330.7 536.5 L328.8 536.1 L326.8 535.6 L324.9 535.2 L322.9 534.7 L321.0 534.3 L319.0 533.8 L317.1 533.4 L315.1 532.9 L313.2 532.5 L311.2 532.0 L309.3 531.6 L307.3 531.1 L305.4 530.7 L303.4 530.2 L301.5 529.8 L299.5 529.4 L297.6 528.9 L295.6 528.5 L293.7 528.0 L291.7 527.6 L289.8 527.1 L287.8 526.7 L285.9 526.3 L283.9 525.8 L282.0 525.4 L280.0 524.9 L278.1 524.5 L276.1 524.1 L274.2 523.6 L272.2 523.2 L270.3 522.8 L268.3 522.3 L266.4 521.9 L264.4 521.5 L262.5 521.0 L260.5 520.6 L258.6 520.2 L256.6 519.7 L254.7 519.3 L252.7 518.9 L250.8 518.4 L248.8 518.0 L246.9 517.6 L244.9 517.2 L242.9 516.7 L241.0 516.3 L239.0 515.9 L237.1 515.4 L235.1 515.0 L233.2 514.6 L231.2 514.2 L229.3 513.7 L227.3 513.3 L225.4 512.9 L223.4 512.5 L221.5 512.0Z" fill="#7ac6c5"/>
<path d="M133.5 514.0 L135.5 514.4 L137.4 514.9 L139.4 515.3 L141.3 515.7 L143.3 516.2 L145.2 516.6 L147.2 517.0 L149.1 517.4 L151.1 517.9 L153.0 518.3 L154.9 518.7 L156.9 519.2 L158.8 519.6 L160.8 520.0 L162.7 520.5 L164.7 520.9 L166.6 521.3 L168.6 521.8 L170.5 522.2 L172.5 522.6 L174.4 523.0 L176.4 523.5 L178.3 523.9 L180.3 524.3 L182.2 524.8 L184.2 525.2 L186.1 525.6 L188.1 526.1 L190.0 526.5 L192.0 526.9 L193.9 527.3 L195.9 527.8 L197.8 528.2 L199.8 528.6 L201.7 529.1 L203.7 529.5 L205.6 529.9 L207.6 530.3 L209.5 530.8 L211.5 531.2 L213.4 531.6 L215.4 532.1 L217.3 532.5 L219.3 532.9 L221.2 533.3 L223.2 533.8 L225.1 534.2 L227.1 534.6 L229.0 535.1 L231.0 535.5 L232.9 535.9 L234.9 536.3 L236.8 536.8 L238.8 537.2 L240.7 537.6 L242.7 538.1 L244.6 538.5 L246.6 538.9 L248.5 539.3 L250.5 539.8 L252.4 540.2 L254.4 540.6 L256.3 541.1 L258.3 541.5 L260.2 541.9 L262.2 542.3 L264.1 542.8 L266.0 543.2 L268.0 543.6 L269.9 544.1 L271.9 544.5 L273.8 544.9 L275.8 545.4 L277.7 545.8 L279.7 546.3 L281.6 546.7 L283.6 547.1 L285.5 547.6 L287.5 548.0 L289.4 548.4 L291.4 548.9 L293.3 549.3 L295.3 549.7 L297.2 550.2 L299.2 550.6 L301.1 551.0 L303.1 551.5 L305.0 551.9 L307.0 552.3 L308.9 552.8 L310.8 553.2 L312.8 553.7 L314.7 554.1 L316.7 554.5 L318.6 555.0 L320.6 555.4 L322.5 555.8 L324.5 556.3 L326.4 556.7 L328.4 557.2 L330.3 557.6 L332.3 558.0 L334.2 558.5 L336.2 558.9 L338.1 559.4 L340.0 559.8 L342.0 560.2 L343.9 560.7 L345.9 561.1 L347.8 561.6 L349.8 562.0 L351.7 562.4 L353.7 562.9 L355.6 563.3 L357.6 563.8 L359.5 564.2 L361.4 564.7 L363.4 565.1 L365.3 565.6 L367.3 566.0 L369.2 566.4 L371.2 566.9 L373.1 567.3 L375.1 567.8 L377.0 568.2 L379.0 568.7 L380.9 569.1 L382.8 569.6 L384.8 570.0 L386.7 570.5 L388.7 570.9 L390.6 571.4 L392.6 571.8 L394.5 572.3 L396.4 572.7 L398.4 573.2 L400.3 573.6 L402.3 574.1 L404.2 574.5 L406.2 575.0 L408.1 575.4 L410.0 575.9 L412.0 576.4 L413.9 576.8 L415.9 577.3 L417.8 577.7 L419.8 578.2 L421.7 578.6 L423.6 579.1 L425.6 579.6 L427.5 580.0 L429.5 580.5 L431.4 580.9 L433.3 581.4 L435.3 581.9 L437.2 582.3 L439.2 582.8 L441.1 583.3 L443.0 583.7 L445.0 584.2 L446.9 584.7 L448.9 585.1 L450.8 585.6 L452.7 586.1 L454.7 586.5 L456.6 587.0 L458.6 587.5 L460.5 587.9 L462.4 588.4 L464.4 588.9 L466.3 589.4 L468.3 589.8 L470.2 590.3 L472.1 590.8 L474.1 591.3 L476.0 591.7 L477.9 592.2 L479.9 592.7 L481.8 593.2 L483.7 593.7 L485.7 594.1 L487.6 594.6 L489.5 595.1 L491.5 595.6 L493.4 596.1 L495.4 596.6 L497.3 597.1 L499.2 597.5 L501.2 598.0 L503.1 598.5 L505.0 599.0 L507.0 599.5 L508.9 600.0 L510.8 600.5 L512.7 601.0 L514.7 601.5 L516.6 602.0 L518.5 602.5 L520.5 603.0 L522.4 603.5 L524.3 604.0 L526.3 604.5 L528.2 605.0 L530.1 605.5 L532.0 606.0 L534.0 606.5 L535.9 607.0 L537.8 607.5 L539.8 608.1 L541.7 608.6 L543.6 609.1 L545.5 609.6 L547.5 610.1 L549.4 610.6 L551.3 611.1 L553.2 611.7 L555.2 612.2 L557.1 612.7 L559.0 613.2 L560.9 613.7 L562.9 614.3 L564.8 614.8 L566.7 615.3 L568.6 615.9 L570.5 616.4 L572.5 616.9 L574.4 617.5 L576.3 618.0 L578.2 618.5 L580.1 619.1 L582.1 619.6 L584.0 620.2 L585.9 620.7 L587.8 621.3 L589.7 621.8 L591.6 622.4 L593.6 622.9 L595.5 623.5 L597.4 624.0 L599.3 624.6 L601.2 625.1 L603.1 625.7 L605.0 626.3 L606.9 626.8 L608.9 627.4 L610.8 628.0 L612.7 628.6 L614.6 629.1 L616.5 629.7 L618.4 630.3 L620.3 630.9 L622.2 631.4 L624.1 632.0 L626.0 632.6 L627.9 633.2 L629.8 633.8 L631.7 634.4 L633.6 635.0 L635.5 635.6 L637.4 636.2 L639.3 636.8 L641.2 637.4 L643.1 638.0 L645.0 638.6 L646.9 639.2 L648.8 639.8 L650.7 640.4 L652.6 641.0 L654.5 641.7 L656.4 642.3 L658.3 642.9 L660.2 643.5 L662.1 644.2 L664.0 644.8 L665.9 645.4 L667.7 646.1 L669.6 646.7 L671.5 647.3 L673.4 648.0 L675.3 648.6 L677.2 649.3 L679.0 649.9 L680.9 650.6 L682.8 651.2 L684.7 651.9 L686.6 652.6 L688.4 653.2 L690.3 653.9 L692.2 654.6 L694.1 655.2 L696.0 655.9 L697.8 656.6 L699.7 657.3 L701.6 657.9 L703.4 658.6 L705.3 659.3 L707.2 660.0 L709.0 660.7 L710.9 661.4 L712.8 662.1 L714.6 662.8 L716.5 663.5 L718.4 664.2 L720.2 664.9 L722.1 665.6 L723.9 666.4 L725.8 667.1 L727.6 667.8 L729.5 668.5 L731.3 669.3 L733.2 670.0 L735.0 670.7 L736.9 671.5 L738.7 672.2 L740.6 673.0 L742.4 673.7 L744.3 674.5 L746.1 675.2 L748.0 676.0 L749.8 676.7 L751.6 677.5 L753.5 678.3 L755.3 679.1 L757.1 679.8 L759.0 680.6 L760.8 681.4 L762.6 682.2 L764.4 683.0 L766.3 683.8 L768.1 684.6 L769.9 685.4 L771.7 686.2 L773.5 687.0 L775.4 687.8 L777.2 688.6 L779.0 689.5 L780.8 690.3 L782.6 691.1 L784.4 692.0 L786.2 692.8 L788.0 693.6 L789.8 694.5 L791.6 695.4 L793.4 696.2 L795.2 697.1 L797.0 697.9 L798.7 698.8 L800.5 699.7 L802.3 700.6 L804.1 701.5 L805.8 702.4 L807.6 703.3 L809.4 704.2 L811.1 705.1 L812.9 706.1 L814.6 707.0 L816.4 707.9 L818.1 708.9 L819.9 709.8 L821.6 710.8 L823.3 711.8 L825.0 712.8 L826.7 713.8 L828.4 714.8 L830.1 715.8 L831.8 716.8 L833.5 717.8 L835.2 718.9 L836.9 719.9 L838.5 721.0 L840.2 722.1 L841.8 723.2 L843.4 724.3 L845.1 725.4 L846.7 726.5 L848.3 727.7 L849.8 728.9 L851.4 730.1 L853.0 731.3 L854.5 732.5 L856.0 733.7 L857.5 735.0 L858.9 736.3 L860.4 737.6 L861.8 738.9 L863.2 740.3 L864.6 741.6 L865.9 743.1 L867.2 744.5 L868.4 746.0 L869.6 747.4 L870.8 749.0 L871.9 750.5 L872.9 752.1 L873.9 753.7 L874.9 755.4 L875.7 757.0 L876.5 758.7 L877.3 760.5 L877.9 762.2 L878.4 764.0 L878.9 765.8 L879.2 767.6 L879.5 769.4 L879.6 771.2 L879.7 773.1 L879.6 774.9 L879.5 776.8 L879.2 778.6 L878.9 780.5 L884.3 781.5 L884.7 779.5 L885.0 777.4 L885.2 775.2 L885.3 773.1 L885.2 770.9 L885.1 768.8 L884.8 766.7 L884.3 764.6 L883.8 762.5 L883.2 760.4 L882.5 758.4 L881.7 756.5 L880.8 754.6 L879.8 752.7 L878.8 750.9 L877.7 749.1 L876.5 747.3 L875.3 745.6 L874.0 744.0 L872.7 742.4 L871.4 740.8 L870.0 739.3 L868.6 737.8 L867.1 736.3 L865.7 734.9 L864.2 733.5 L862.7 732.1 L861.1 730.7 L859.6 729.4 L858.0 728.1 L856.4 726.9 L854.8 725.6 L853.2 724.4 L851.6 723.2 L849.9 722.0 L848.3 720.8 L846.6 719.7 L844.9 718.5 L843.3 717.4 L841.6 716.3 L839.9 715.2 L838.2 714.1 L836.5 713.1 L834.8 712.0 L833.0 711.0 L831.3 709.9 L829.6 708.9 L827.8 707.9 L826.1 706.9 L824.3 705.9 L822.6 704.9 L820.8 704.0 L819.1 703.0 L817.3 702.1 L815.5 701.1 L813.7 700.2 L812.0 699.2 L810.2 698.3 L808.4 697.4 L806.6 696.5 L804.8 695.6 L803.0 694.7 L801.2 693.8 L799.4 692.9 L797.6 692.0 L795.8 691.2 L794.0 690.3 L792.2 689.4 L790.4 688.6 L788.6 687.7 L786.8 686.9 L784.9 686.0 L783.1 685.2 L781.3 684.4 L779.5 683.5 L777.7 682.7 L775.8 681.9 L774.0 681.1 L772.2 680.3 L770.3 679.5 L768.5 678.7 L766.7 677.9 L764.8 677.1 L763.0 676.3 L761.2 675.5 L759.3 674.7 L757.5 673.9 L755.6 673.1 L753.8 672.3 L751.9 671.6 L750.1 670.8 L748.3 670.0 L746.4 669.3 L744.5 668.5 L742.7 667.8 L740.8 667.0 L739.0 666.3 L737.1 665.5 L735.3 664.8 L733.4 664.1 L731.5 663.3 L729.7 662.6 L727.8 661.9 L726.0 661.1 L724.1 660.4 L722.2 659.7 L720.4 659.0 L718.5 658.3 L716.6 657.6 L714.7 656.9 L712.9 656.2 L711.0 655.5 L709.1 654.8 L707.2 654.1 L705.4 653.4 L703.5 652.7 L701.6 652.0 L699.7 651.3 L697.9 650.6 L696.0 650.0 L694.1 649.3 L692.2 648.6 L690.3 647.9 L688.4 647.3 L686.5 646.6 L684.7 646.0 L682.8 645.3 L680.9 644.6 L679.0 644.0 L677.1 643.3 L675.2 642.7 L673.3 642.0 L671.4 641.4 L669.5 640.8 L667.6 640.1 L665.7 639.5 L663.8 638.9 L661.9 638.2 L660.0 637.6 L658.1 637.0 L656.2 636.3 L654.3 635.7 L652.4 635.1 L650.5 634.5 L648.6 633.9 L646.7 633.3 L644.8 632.7 L642.9 632.0 L641.0 631.4 L639.1 630.8 L637.2 630.2 L635.3 629.6 L633.4 629.0 L631.5 628.4 L629.6 627.9 L627.7 627.3 L625.8 626.7 L623.8 626.1 L621.9 625.5 L620.0 624.9 L618.1 624.3 L616.2 623.8 L614.3 623.2 L612.4 622.6 L610.5 622.0 L608.5 621.5 L606.6 620.9 L604.7 620.3 L602.8 619.8 L600.9 619.2 L599.0 618.7 L597.0 618.1 L595.1 617.5 L593.2 617.0 L591.3 616.4 L589.4 615.9 L587.4 615.3 L585.5 614.8 L583.6 614.2 L581.7 613.7 L579.7 613.1 L577.8 612.6 L575.9 612.1 L574.0 611.5 L572.0 611.0 L570.1 610.5 L568.2 609.9 L566.3 609.4 L564.3 608.9 L562.4 608.3 L560.5 607.8 L558.6 607.3 L556.6 606.8 L554.7 606.2 L552.8 605.7 L550.8 605.2 L548.9 604.7 L547.0 604.2 L545.1 603.7 L543.1 603.2 L541.2 602.6 L539.3 602.1 L537.3 601.6 L535.4 601.1 L533.5 600.6 L531.5 600.1 L529.6 599.6 L527.7 599.1 L525.7 598.6 L523.8 598.1 L521.8 597.6 L519.9 597.1 L518.0 596.6 L516.0 596.2 L514.1 595.7 L512.2 595.2 L510.2 594.7 L508.3 594.2 L506.4 593.7 L504.4 593.2 L502.5 592.7 L500.5 592.3 L498.6 591.8 L496.7 591.3 L494.7 590.8 L492.8 590.3 L490.9 589.9 L488.9 589.4 L487.0 588.9 L485.0 588.4 L483.1 588.0 L481.2 587.5 L479.2 587.0 L477.3 586.5 L475.3 586.1 L473.4 585.6 L471.4 585.1 L469.5 584.7 L467.6 584.2 L465.6 583.7 L463.7 583.3 L461.7 582.8 L459.8 582.3 L457.9 581.9 L455.9 581.4 L454.0 581.0 L452.0 580.5 L450.1 580.0 L448.1 579.6 L446.2 579.1 L444.3 578.7 L442.3 578.2 L440.4 577.7 L438.4 577.3 L436.5 576.8 L434.5 576.4 L432.6 575.9 L430.6 575.5 L428.7 575.0 L426.8 574.6 L424.8 574.1 L422.9 573.6 L420.9 573.2 L419.0 572.7 L417.0 572.3 L415.1 571.8 L413.1 571.4 L411.2 571.0 L409.3 570.5 L407.3 570.1 L405.4 569.6 L403.4 569.2 L401.5 568.7 L399.5 568.3 L397.6 567.8 L395.6 567.4 L393.7 566.9 L391.7 566.5 L389.8 566.1 L387.8 565.6 L385.9 565.2 L384.0 564.7 L382.0 564.3 L380.1 563.8 L378.1 563.4 L376.2 563.0 L374.2 562.5 L372.3 562.1 L370.3 561.6 L368.4 561.2 L366.4 560.8 L364.5 560.3 L362.5 559.9 L360.6 559.5 L358.6 559.0 L356.7 558.6 L354.7 558.2 L352.8 557.7 L350.8 557.3 L348.9 556.8 L346.9 556.4 L345.0 556.0 L343.0 555.5 L341.1 555.1 L339.1 554.7 L337.2 554.2 L335.3 553.8 L333.3 553.4 L331.4 552.9 L329.4 552.5 L327.5 552.1 L325.5 551.7 L323.6 551.2 L321.6 550.8 L319.7 550.4 L317.7 549.9 L315.8 549.5 L313.8 549.1 L311.9 548.6 L309.9 548.2 L308.0 547.8 L306.0 547.4 L304.1 546.9 L302.1 546.5 L300.2 546.1 L298.2 545.6 L296.3 545.2 L294.3 544.8 L292.4 544.4 L290.4 543.9 L288.5 543.5 L286.5 543.1 L284.6 542.7 L282.6 542.2 L280.7 541.8 L278.7 541.4 L276.8 540.9 L274.8 540.5 L272.9 540.1 L270.9 539.7 L269.0 539.2 L267.0 538.8 L265.1 538.4 L263.1 538.0 L261.2 537.5 L259.2 537.1 L257.3 536.7 L255.3 536.3 L253.4 535.8 L251.4 535.4 L249.5 535.0 L247.5 534.5 L245.6 534.1 L243.6 533.7 L241.7 533.3 L239.7 532.8 L237.8 532.4 L235.8 532.0 L233.9 531.5 L231.9 531.1 L230.0 530.7 L228.0 530.3 L226.1 529.8 L224.1 529.4 L222.2 529.0 L220.2 528.5 L218.3 528.1 L216.3 527.7 L214.4 527.3 L212.4 526.8 L210.5 526.4 L208.5 526.0 L206.6 525.5 L204.6 525.1 L202.7 524.7 L200.7 524.3 L198.8 523.8 L196.8 523.4 L194.9 523.0 L192.9 522.5 L191.0 522.1 L189.0 521.7 L187.1 521.2 L185.1 520.8 L183.2 520.4 L181.3 520.0 L179.3 519.5 L177.4 519.1 L175.4 518.7 L173.5 518.2 L171.5 517.8 L169.6 517.4 L167.6 517.0 L165.7 516.5 L163.7 516.1 L161.8 515.7 L159.8 515.2 L157.9 514.8 L155.9 514.4 L154.0 513.9 L152.0 513.5 L150.1 513.1 L148.1 512.6 L146.2 512.2 L144.2 511.8 L142.3 511.3 L140.3 510.9 L138.4 510.5 L136.4 510.0 L134.5 509.6Z" fill="#5ab257"/>
<path d="M133.5 523.0 L135.5 523.4 L137.4 523.7 L139.4 524.1 L141.3 524.5 L143.3 524.9 L145.2 525.3 L147.2 525.7 L149.2 526.1 L151.1 526.5 L153.1 526.8 L155.0 527.2 L157.0 527.6 L159.0 528.0 L160.9 528.4 L162.9 528.8 L164.8 529.2 L166.8 529.6 L168.7 530.0 L170.7 530.4 L172.7 530.8 L174.6 531.1 L176.6 531.5 L178.5 531.9 L180.5 532.3 L182.4 532.7 L184.4 533.1 L186.4 533.5 L188.3 533.9 L190.3 534.3 L192.2 534.7 L194.2 535.1 L196.1 535.5 L198.1 535.9 L200.0 536.3 L202.0 536.7 L204.0 537.1 L205.9 537.5 L207.9 537.8 L209.8 538.2 L211.8 538.6 L213.7 539.0 L215.7 539.4 L217.7 539.8 L219.6 540.2 L221.6 540.6 L223.5 541.0 L225.5 541.4 L227.4 541.8 L229.4 542.2 L231.3 542.6 L233.3 543.0 L235.3 543.4 L237.2 543.8 L239.2 544.2 L241.1 544.6 L243.1 545.1 L245.0 545.5 L247.0 545.9 L248.9 546.3 L250.9 546.7 L252.8 547.1 L254.8 547.5 L256.8 547.9 L258.7 548.3 L260.7 548.7 L262.6 549.1 L264.6 549.5 L266.5 549.9 L268.5 550.3 L270.4 550.8 L272.4 551.2 L274.3 551.6 L276.3 552.0 L278.2 552.4 L280.2 552.8 L282.1 553.2 L284.1 553.7 L286.0 554.1 L288.0 554.5 L289.9 554.9 L291.9 555.3 L293.8 555.8 L295.8 556.2 L297.7 556.6 L299.7 557.0 L301.7 557.4 L303.6 557.8 L305.6 558.3 L307.5 558.7 L309.5 559.1 L311.4 559.5 L313.4 560.0 L315.3 560.4 L317.3 560.8 L319.2 561.2 L321.2 561.7 L323.1 562.1 L325.1 562.5 L327.0 562.9 L329.0 563.4 L330.9 563.8 L332.9 564.2 L334.8 564.6 L336.8 565.1 L338.7 565.5 L340.6 565.9 L342.6 566.4 L344.5 566.8 L346.5 567.2 L348.4 567.7 L350.4 568.1 L352.3 568.5 L354.3 569.0 L356.2 569.4 L358.2 569.8 L360.1 570.3 L362.1 570.7 L364.0 571.1 L366.0 571.6 L367.9 572.0 L369.9 572.4 L371.8 572.9 L373.8 573.3 L375.7 573.8 L377.6 574.2 L379.6 574.6 L381.5 575.1 L383.5 575.5 L385.4 576.0 L387.4 576.4 L389.3 576.9 L391.3 577.3 L393.2 577.8 L395.2 578.2 L397.1 578.7 L399.0 579.1 L401.0 579.6 L402.9 580.0 L404.9 580.5 L406.8 580.9 L408.8 581.4 L410.7 581.8 L412.6 582.3 L414.6 582.7 L416.5 583.2 L418.5 583.6 L420.4 584.1 L422.4 584.5 L424.3 585.0 L426.2 585.5 L428.2 585.9 L430.1 586.4 L432.1 586.8 L434.0 587.3 L436.0 587.8 L437.9 588.2 L439.8 588.7 L441.8 589.2 L443.7 589.6 L445.7 590.1 L447.6 590.6 L449.5 591.0 L451.5 591.5 L453.4 592.0 L455.3 592.4 L457.3 592.9 L459.2 593.4 L461.2 593.9 L463.1 594.3 L465.0 594.8 L467.0 595.3 L468.9 595.8 L470.8 596.2 L472.8 596.7 L474.7 597.2 L476.7 597.7 L478.6 598.2 L480.5 598.6 L482.5 599.1 L484.4 599.6 L486.3 600.1 L488.3 600.6 L490.2 601.1 L492.1 601.6 L494.1 602.1 L496.0 602.5 L497.9 603.0 L499.9 603.5 L501.8 604.0 L503.7 604.5 L505.7 605.0 L507.6 605.5 L509.5 606.0 L511.5 606.5 L513.4 607.0 L515.3 607.5 L517.2 608.0 L519.2 608.5 L521.1 609.0 L523.0 609.5 L525.0 610.1 L526.9 610.6 L528.8 611.1 L530.7 611.6 L532.7 612.1 L534.6 612.6 L536.5 613.1 L538.4 613.7 L540.4 614.2 L542.3 614.7 L544.2 615.2 L546.1 615.7 L548.1 616.3 L550.0 616.8 L551.9 617.3 L553.8 617.8 L555.8 618.4 L557.7 618.9 L559.6 619.4 L561.5 619.9 L563.4 620.5 L565.4 621.0 L567.3 621.6 L569.2 622.1 L571.1 622.6 L573.0 623.2 L575.0 623.7 L576.9 624.3 L578.8 624.8 L580.7 625.4 L582.6 625.9 L584.5 626.5 L586.5 627.0 L588.4 627.6 L590.3 628.1 L592.2 628.7 L594.1 629.2 L596.0 629.8 L597.9 630.4 L599.9 630.9 L601.8 631.5 L603.7 632.1 L605.6 632.7 L607.5 633.2 L609.4 633.8 L611.3 634.4 L613.2 635.0 L615.1 635.5 L617.0 636.1 L618.9 636.7 L620.8 637.3 L622.7 637.9 L624.6 638.5 L626.5 639.1 L628.4 639.7 L630.3 640.3 L632.2 640.9 L634.1 641.5 L636.0 642.1 L637.9 642.7 L639.8 643.3 L641.7 643.9 L643.6 644.5 L645.5 645.1 L647.4 645.8 L649.3 646.4 L651.2 647.0 L653.1 647.6 L655.0 648.2 L656.9 648.9 L658.8 649.5 L660.7 650.1 L662.5 650.8 L664.4 651.4 L666.3 652.1 L668.2 652.7 L670.1 653.3 L672.0 654.0 L673.9 654.6 L675.7 655.3 L677.6 656.0 L679.5 656.6 L681.4 657.3 L683.3 657.9 L685.1 658.6 L687.0 659.3 L688.9 659.9 L690.8 660.6 L692.6 661.3 L694.5 662.0 L696.4 662.7 L698.2 663.3 L700.1 664.0 L702.0 664.7 L703.8 665.4 L705.7 666.1 L707.6 666.8 L709.4 667.5 L711.3 668.2 L713.2 668.9 L715.0 669.6 L716.9 670.4 L718.7 671.1 L720.6 671.8 L722.4 672.5 L724.3 673.2 L726.2 674.0 L728.0 674.7 L729.9 675.4 L731.7 676.2 L733.5 676.9 L735.4 677.7 L737.2 678.4 L739.1 679.2 L740.9 679.9 L742.8 680.7 L744.6 681.5 L746.4 682.2 L748.3 683.0 L750.1 683.8 L751.9 684.6 L753.8 685.3 L755.6 686.1 L757.4 686.9 L759.2 687.7 L761.1 688.5 L762.9 689.3 L764.7 690.1 L766.5 690.9 L768.3 691.7 L770.2 692.6 L772.0 693.4 L773.8 694.2 L775.6 695.0 L777.4 695.9 L779.2 696.7 L781.0 697.5 L782.8 698.4 L784.6 699.2 L786.4 700.1 L788.2 701.0 L790.0 701.8 L791.7 702.7 L793.5 703.6 L795.3 704.4 L797.1 705.3 L798.9 706.2 L800.6 707.1 L802.4 708.0 L804.2 708.9 L805.9 709.9 L807.7 710.8 L809.4 711.7 L811.2 712.7 L812.9 713.6 L814.7 714.5 L816.4 715.5 L818.1 716.5 L819.8 717.5 L821.6 718.4 L823.3 719.4 L825.0 720.4 L826.7 721.4 L828.4 722.5 L830.1 723.5 L831.7 724.5 L833.4 725.6 L835.1 726.7 L836.7 727.7 L838.4 728.8 L840.0 729.9 L841.6 731.0 L843.2 732.2 L844.9 733.3 L846.4 734.4 L848.0 735.6 L849.6 736.8 L851.1 738.0 L852.7 739.2 L854.2 740.5 L855.7 741.7 L857.2 743.0 L858.6 744.3 L860.0 745.6 L861.4 746.9 L862.8 748.3 L864.2 749.7 L865.5 751.1 L866.8 752.5 L868.0 754.0 L869.2 755.5 L870.4 757.0 L871.5 758.5 L872.5 760.1 L873.5 761.7 L874.4 763.3 L875.3 765.0 L876.0 766.7 L876.7 768.4 L877.3 770.1 L877.8 771.8 L878.1 773.6 L878.4 775.4 L878.5 777.2 L878.6 778.9 L878.5 780.8 L884.7 781.2 L884.9 779.1 L884.8 776.9 L884.7 774.7 L884.3 772.5 L883.9 770.4 L883.3 768.3 L882.6 766.2 L881.8 764.2 L881.0 762.2 L880.0 760.3 L878.9 758.5 L877.8 756.7 L876.7 754.9 L875.4 753.2 L874.2 751.6 L872.9 749.9 L871.5 748.4 L870.1 746.8 L868.7 745.3 L867.3 743.8 L865.8 742.4 L864.3 741.0 L862.8 739.6 L861.3 738.2 L859.8 736.9 L858.2 735.6 L856.6 734.3 L855.0 733.0 L853.4 731.8 L851.8 730.6 L850.2 729.4 L848.5 728.2 L846.9 727.0 L845.2 725.8 L843.5 724.7 L841.9 723.6 L840.2 722.5 L838.5 721.4 L836.8 720.3 L835.1 719.2 L833.4 718.1 L831.6 717.1 L829.9 716.0 L828.2 715.0 L826.5 714.0 L824.7 713.0 L823.0 712.0 L821.2 711.0 L819.5 710.0 L817.7 709.0 L815.9 708.1 L814.2 707.1 L812.4 706.2 L810.6 705.2 L808.8 704.3 L807.1 703.3 L805.3 702.4 L803.5 701.5 L801.7 700.6 L799.9 699.7 L798.1 698.8 L796.3 697.9 L794.5 697.0 L792.7 696.2 L790.9 695.3 L789.1 694.4 L787.3 693.5 L785.5 692.7 L783.7 691.8 L781.9 691.0 L780.0 690.1 L778.2 689.3 L776.4 688.5 L774.6 687.6 L772.7 686.8 L770.9 686.0 L769.1 685.2 L767.3 684.4 L765.4 683.5 L763.6 682.7 L761.8 681.9 L759.9 681.1 L758.1 680.3 L756.2 679.6 L754.4 678.8 L752.6 678.0 L750.7 677.2 L748.9 676.4 L747.0 675.7 L745.2 674.9 L743.3 674.1 L741.5 673.4 L739.6 672.6 L737.8 671.8 L735.9 671.1 L734.1 670.3 L732.2 669.6 L730.3 668.9 L728.5 668.1 L726.6 667.4 L724.7 666.7 L722.9 665.9 L721.0 665.2 L719.1 664.5 L717.3 663.8 L715.4 663.0 L713.5 662.3 L711.7 661.6 L709.8 660.9 L707.9 660.2 L706.0 659.5 L704.2 658.8 L702.3 658.1 L700.4 657.4 L698.5 656.7 L696.7 656.1 L694.8 655.4 L692.9 654.7 L691.0 654.0 L689.1 653.3 L687.2 652.7 L685.4 652.0 L683.5 651.3 L681.6 650.7 L679.7 650.0 L677.8 649.3 L675.9 648.7 L674.0 648.0 L672.1 647.4 L670.2 646.7 L668.4 646.1 L666.5 645.4 L664.6 644.8 L662.7 644.2 L660.8 643.5 L658.9 642.9 L657.0 642.3 L655.1 641.6 L653.2 641.0 L651.3 640.4 L649.4 639.8 L647.5 639.1 L645.6 638.5 L643.7 637.9 L641.8 637.3 L639.9 636.7 L638.0 636.1 L636.1 635.5 L634.1 634.9 L632.2 634.3 L630.3 633.7 L628.4 633.1 L626.5 632.5 L624.6 631.9 L622.7 631.3 L620.8 630.7 L618.9 630.1 L617.0 629.5 L615.0 628.9 L613.1 628.4 L611.2 627.8 L609.3 627.2 L607.4 626.6 L605.5 626.0 L603.6 625.5 L601.6 624.9 L599.7 624.3 L597.8 623.8 L595.9 623.2 L594.0 622.6 L592.1 622.1 L590.1 621.5 L588.2 621.0 L586.3 620.4 L584.4 619.9 L582.5 619.3 L580.5 618.8 L578.6 618.2 L576.7 617.7 L574.8 617.1 L572.8 616.6 L570.9 616.0 L569.0 615.5 L567.1 614.9 L565.1 614.4 L563.2 613.9 L561.3 613.3 L559.4 612.8 L557.4 612.3 L555.5 611.8 L553.6 611.2 L551.6 610.7 L549.7 610.2 L547.8 609.7 L545.9 609.1 L543.9 608.6 L542.0 608.1 L540.1 607.6 L538.1 607.1 L536.2 606.6 L534.3 606.0 L532.3 605.5 L530.4 605.0 L528.5 604.5 L526.5 604.0 L524.6 603.5 L522.7 603.0 L520.7 602.5 L518.8 602.0 L516.9 601.5 L514.9 601.0 L513.0 600.5 L511.1 600.0 L509.1 599.6 L507.2 599.1 L505.2 598.6 L503.3 598.1 L501.4 597.6 L499.4 597.1 L497.5 596.6 L495.6 596.1 L493.6 595.7 L491.7 595.2 L489.7 594.7 L487.8 594.2 L485.9 593.7 L483.9 593.3 L482.0 592.8 L480.0 592.3 L478.1 591.8 L476.2 591.4 L474.2 590.9 L472.3 590.4 L470.3 589.9 L468.4 589.5 L466.4 589.0 L464.5 588.5 L462.6 588.1 L460.6 587.6 L458.7 587.1 L456.7 586.7 L454.8 586.2 L452.8 585.7 L450.9 585.3 L449.0 584.8 L447.0 584.4 L445.1 583.9 L443.1 583.5 L441.2 583.0 L439.2 582.5 L437.3 582.1 L435.3 581.6 L433.4 581.2 L431.5 580.7 L429.5 580.3 L427.6 579.8 L425.6 579.4 L423.7 578.9 L421.7 578.5 L419.8 578.0 L417.8 577.6 L415.9 577.1 L413.9 576.7 L412.0 576.2 L410.0 575.8 L408.1 575.3 L406.2 574.9 L404.2 574.5 L402.3 574.0 L400.3 573.6 L398.4 573.1 L396.4 572.7 L394.5 572.3 L392.5 571.8 L390.6 571.4 L388.6 570.9 L386.7 570.5 L384.7 570.1 L382.8 569.6 L380.8 569.2 L378.9 568.8 L376.9 568.3 L375.0 567.9 L373.0 567.5 L371.1 567.0 L369.1 566.6 L367.2 566.2 L365.2 565.8 L363.3 565.3 L361.3 564.9 L359.4 564.5 L357.4 564.0 L355.5 563.6 L353.5 563.2 L351.6 562.8 L349.6 562.3 L347.7 561.9 L345.7 561.5 L343.8 561.1 L341.8 560.6 L339.8 560.2 L337.9 559.8 L335.9 559.4 L334.0 559.0 L332.0 558.5 L330.1 558.1 L328.1 557.7 L326.2 557.3 L324.2 556.9 L322.3 556.5 L320.3 556.0 L318.4 555.6 L316.4 555.2 L314.5 554.8 L312.5 554.4 L310.6 554.0 L308.6 553.6 L306.6 553.1 L304.7 552.7 L302.7 552.3 L300.8 551.9 L298.8 551.5 L296.9 551.1 L294.9 550.7 L293.0 550.3 L291.0 549.8 L289.1 549.4 L287.1 549.0 L285.2 548.6 L283.2 548.2 L281.2 547.8 L279.3 547.4 L277.3 547.0 L275.4 546.6 L273.4 546.2 L271.5 545.8 L269.5 545.4 L267.6 545.0 L265.6 544.6 L263.6 544.2 L261.7 543.8 L259.7 543.4 L257.8 543.0 L255.8 542.5 L253.9 542.1 L251.9 541.7 L250.0 541.3 L248.0 540.9 L246.0 540.5 L244.1 540.1 L242.1 539.7 L240.2 539.3 L238.2 538.9 L236.3 538.5 L234.3 538.1 L232.4 537.7 L230.4 537.3 L228.4 536.9 L226.5 536.5 L224.5 536.1 L222.6 535.7 L220.6 535.3 L218.7 534.9 L216.7 534.5 L214.7 534.1 L212.8 533.7 L210.8 533.3 L208.9 532.9 L206.9 532.5 L205.0 532.1 L203.0 531.7 L201.0 531.3 L199.1 530.9 L197.1 530.5 L195.2 530.1 L193.2 529.7 L191.3 529.3 L189.3 529.0 L187.3 528.6 L185.4 528.2 L183.4 527.8 L181.5 527.4 L179.5 527.0 L177.6 526.6 L175.6 526.2 L173.6 525.8 L171.7 525.4 L169.7 525.0 L167.8 524.6 L165.8 524.2 L163.9 523.9 L161.9 523.5 L159.9 523.1 L158.0 522.7 L156.0 522.3 L154.1 521.9 L152.1 521.5 L150.1 521.1 L148.2 520.7 L146.2 520.4 L144.3 520.0 L142.3 519.6 L140.4 519.2 L138.4 518.8 L136.4 518.4 L134.5 518.0Z" fill="#31298c"/>
<path d="M133.5 542.7 L135.5 543.0 L137.4 543.4 L139.4 543.7 L141.4 544.1 L143.3 544.4 L145.3 544.8 L147.3 545.2 L149.2 545.5 L151.2 545.9 L153.2 546.2 L155.1 546.6 L157.1 546.9 L159.1 547.3 L161.0 547.7 L163.0 548.0 L165.0 548.4 L166.9 548.7 L168.9 549.1 L170.9 549.5 L172.8 549.8 L174.8 550.2 L176.7 550.5 L178.7 550.9 L180.7 551.3 L182.6 551.6 L184.6 552.0 L186.6 552.3 L188.5 552.7 L190.5 553.1 L192.5 553.4 L194.4 553.8 L196.4 554.2 L198.4 554.5 L200.3 554.9 L202.3 555.3 L204.2 555.6 L206.2 556.0 L208.2 556.4 L210.1 556.7 L212.1 557.1 L214.1 557.5 L216.0 557.8 L218.0 558.2 L220.0 558.6 L221.9 558.9 L223.9 559.3 L225.8 559.7 L227.8 560.0 L229.8 560.4 L231.7 560.8 L233.7 561.1 L235.7 561.5 L237.6 561.9 L239.6 562.3 L241.5 562.6 L243.5 563.0 L245.5 563.4 L247.4 563.8 L249.4 564.1 L251.4 564.5 L253.3 564.9 L255.3 565.3 L257.2 565.6 L259.2 566.0 L261.2 566.4 L263.1 566.8 L265.1 567.2 L267.1 567.5 L269.0 567.9 L271.0 568.3 L272.9 568.7 L274.9 569.1 L276.9 569.5 L278.8 569.8 L280.8 570.2 L282.7 570.6 L284.7 571.0 L286.7 571.4 L288.6 571.8 L290.6 572.2 L292.5 572.6 L294.5 572.9 L296.4 573.3 L298.4 573.7 L300.4 574.1 L302.3 574.5 L304.3 574.9 L306.2 575.3 L308.2 575.7 L310.2 576.1 L312.1 576.5 L314.1 576.9 L316.0 577.3 L318.0 577.7 L319.9 578.1 L321.9 578.5 L323.9 578.8 L325.8 579.2 L327.8 579.6 L329.7 580.0 L331.7 580.4 L333.7 580.8 L335.6 581.2 L337.6 581.6 L339.5 582.0 L341.5 582.4 L343.4 582.8 L345.4 583.2 L347.3 583.7 L349.3 584.1 L351.3 584.5 L353.2 584.9 L355.2 585.3 L357.1 585.7 L359.1 586.1 L361.0 586.5 L363.0 586.9 L364.9 587.3 L366.9 587.7 L368.9 588.1 L370.8 588.5 L372.8 588.9 L374.7 589.4 L376.7 589.8 L378.6 590.2 L380.6 590.6 L382.5 591.0 L384.5 591.4 L386.4 591.8 L388.4 592.3 L390.3 592.7 L392.3 593.1 L394.3 593.5 L396.2 593.9 L398.2 594.4 L400.1 594.8 L402.1 595.2 L404.0 595.6 L406.0 596.0 L407.9 596.5 L409.9 596.9 L411.8 597.3 L413.8 597.7 L415.7 598.2 L417.7 598.6 L419.6 599.0 L421.6 599.4 L423.5 599.9 L425.5 600.3 L427.4 600.7 L429.4 601.2 L431.3 601.6 L433.3 602.0 L435.2 602.5 L437.2 602.9 L439.1 603.3 L441.1 603.8 L443.0 604.2 L445.0 604.6 L446.9 605.1 L448.9 605.5 L450.8 606.0 L452.8 606.4 L454.7 606.8 L456.7 607.3 L458.6 607.7 L460.6 608.2 L462.5 608.6 L464.4 609.1 L466.4 609.5 L468.3 609.9 L470.3 610.4 L472.2 610.8 L474.2 611.3 L476.1 611.7 L478.1 612.2 L480.0 612.7 L482.0 613.1 L483.9 613.6 L485.8 614.0 L487.8 614.5 L489.7 614.9 L491.7 615.4 L493.6 615.9 L495.6 616.3 L497.5 616.8 L499.4 617.2 L501.4 617.7 L503.3 618.2 L505.3 618.6 L507.2 619.1 L509.1 619.6 L511.1 620.0 L513.0 620.5 L515.0 621.0 L516.9 621.4 L518.8 621.9 L520.8 622.4 L522.7 622.9 L524.7 623.3 L526.6 623.8 L528.5 624.3 L530.5 624.8 L532.4 625.3 L534.3 625.8 L536.3 626.2 L538.2 626.7 L540.2 627.2 L542.1 627.7 L544.0 628.2 L546.0 628.7 L547.9 629.1 L549.8 629.6 L551.8 630.1 L553.7 630.6 L555.6 631.1 L557.6 631.6 L559.5 632.1 L561.4 632.6 L563.4 633.1 L565.3 633.6 L567.2 634.1 L569.2 634.6 L571.1 635.1 L573.0 635.6 L575.0 636.1 L576.9 636.6 L578.8 637.1 L580.7 637.6 L582.7 638.2 L584.6 638.7 L586.5 639.2 L588.5 639.7 L590.4 640.2 L592.3 640.7 L594.2 641.3 L596.2 641.8 L598.1 642.3 L600.0 642.8 L601.9 643.4 L603.9 643.9 L605.8 644.4 L607.7 645.0 L609.6 645.5 L611.5 646.0 L613.5 646.6 L615.4 647.1 L617.3 647.7 L619.2 648.2 L621.1 648.8 L623.1 649.3 L625.0 649.9 L626.9 650.4 L628.8 651.0 L630.7 651.5 L632.6 652.1 L634.6 652.6 L636.5 653.2 L638.4 653.8 L640.3 654.3 L642.2 654.9 L644.1 655.5 L646.0 656.0 L647.9 656.6 L649.9 657.2 L651.8 657.8 L653.7 658.3 L655.6 658.9 L657.5 659.5 L659.4 660.1 L661.3 660.7 L663.2 661.3 L665.1 661.9 L667.0 662.5 L668.9 663.1 L670.8 663.7 L672.7 664.3 L674.6 664.9 L676.5 665.5 L678.4 666.1 L680.3 666.7 L682.2 667.3 L684.1 667.9 L686.0 668.5 L687.9 669.2 L689.8 669.8 L691.7 670.4 L693.6 671.1 L695.5 671.7 L697.3 672.3 L699.2 673.0 L701.1 673.6 L703.0 674.2 L704.9 674.9 L706.8 675.5 L708.7 676.2 L710.5 676.9 L712.4 677.5 L714.3 678.2 L716.2 678.8 L718.1 679.5 L719.9 680.2 L721.8 680.8 L723.7 681.5 L725.6 682.2 L727.4 682.9 L729.3 683.6 L731.2 684.3 L733.0 685.0 L734.9 685.7 L736.8 686.4 L738.6 687.1 L740.5 687.8 L742.3 688.5 L744.2 689.2 L746.1 689.9 L747.9 690.6 L749.8 691.4 L751.6 692.1 L753.5 692.8 L755.3 693.6 L757.2 694.3 L759.0 695.1 L760.9 695.8 L762.7 696.6 L764.5 697.3 L766.4 698.1 L768.2 698.9 L770.0 699.6 L771.9 700.4 L773.7 701.2 L775.5 702.0 L777.4 702.8 L779.2 703.6 L781.0 704.4 L782.8 705.2 L784.6 706.0 L786.4 706.8 L788.2 707.6 L790.0 708.5 L791.9 709.3 L793.7 710.1 L795.4 711.0 L797.2 711.8 L799.0 712.7 L800.8 713.6 L802.6 714.4 L804.4 715.3 L806.2 716.2 L807.9 717.1 L809.7 718.0 L811.5 718.9 L813.2 719.8 L815.0 720.8 L816.7 721.7 L818.4 722.6 L820.2 723.6 L821.9 724.6 L823.6 725.5 L825.4 726.5 L827.1 727.5 L828.8 728.5 L830.5 729.5 L832.2 730.5 L833.8 731.6 L835.5 732.6 L837.2 733.7 L838.8 734.7 L840.5 735.8 L842.1 736.9 L843.7 738.1 L845.3 739.2 L846.9 740.3 L848.5 741.5 L850.0 742.7 L851.6 743.9 L853.1 745.1 L854.6 746.3 L856.1 747.6 L857.6 748.8 L859.1 750.1 L860.5 751.4 L861.9 752.8 L863.2 754.1 L864.6 755.5 L865.9 756.9 L867.1 758.4 L868.4 759.8 L869.5 761.3 L870.7 762.9 L871.7 764.4 L872.7 766.0 L873.7 767.6 L874.6 769.2 L875.4 770.9 L876.1 772.6 L876.7 774.3 L877.2 776.0 L877.7 777.8 L878.0 779.5 L878.2 781.4 L885.0 780.6 L884.7 778.5 L884.3 776.3 L883.8 774.2 L883.2 772.1 L882.4 770.1 L881.6 768.1 L880.6 766.1 L879.6 764.3 L878.5 762.4 L877.4 760.6 L876.2 758.9 L874.9 757.2 L873.6 755.6 L872.3 754.0 L870.9 752.4 L869.5 750.9 L868.1 749.4 L866.6 747.9 L865.1 746.5 L863.6 745.1 L862.1 743.7 L860.5 742.4 L859.0 741.1 L857.4 739.8 L855.8 738.5 L854.2 737.3 L852.5 736.0 L850.9 734.8 L849.3 733.6 L847.6 732.5 L845.9 731.3 L844.2 730.2 L842.5 729.1 L840.8 728.0 L839.1 726.9 L837.4 725.8 L835.7 724.7 L834.0 723.7 L832.2 722.6 L830.5 721.6 L828.7 720.6 L827.0 719.6 L825.2 718.6 L823.5 717.6 L821.7 716.7 L819.9 715.7 L818.2 714.8 L816.4 713.8 L814.6 712.9 L812.8 712.0 L811.0 711.0 L809.2 710.1 L807.4 709.2 L805.6 708.3 L803.8 707.5 L802.0 706.6 L800.2 705.7 L798.4 704.8 L796.5 704.0 L794.7 703.1 L792.9 702.3 L791.1 701.5 L789.2 700.6 L787.4 699.8 L785.6 699.0 L783.7 698.2 L781.9 697.3 L780.1 696.5 L778.2 695.7 L776.4 695.0 L774.5 694.2 L772.7 693.4 L770.8 692.6 L769.0 691.8 L767.1 691.1 L765.3 690.3 L763.4 689.5 L761.6 688.8 L759.7 688.0 L757.8 687.3 L756.0 686.5 L754.1 685.8 L752.3 685.0 L750.4 684.3 L748.5 683.6 L746.7 682.9 L744.8 682.1 L742.9 681.4 L741.0 680.7 L739.2 680.0 L737.3 679.3 L735.4 678.6 L733.5 677.9 L731.6 677.2 L729.8 676.5 L727.9 675.8 L726.0 675.1 L724.1 674.5 L722.2 673.8 L720.3 673.1 L718.5 672.4 L716.6 671.8 L714.7 671.1 L712.8 670.4 L710.9 669.8 L709.0 669.1 L707.1 668.5 L705.2 667.8 L703.3 667.2 L701.4 666.5 L699.5 665.9 L697.6 665.2 L695.7 664.6 L693.8 664.0 L691.9 663.3 L690.0 662.7 L688.1 662.1 L686.2 661.5 L684.3 660.8 L682.4 660.2 L680.5 659.6 L678.6 659.0 L676.7 658.4 L674.8 657.8 L672.9 657.2 L671.0 656.6 L669.0 656.0 L667.1 655.4 L665.2 654.8 L663.3 654.2 L661.4 653.6 L659.5 653.0 L657.6 652.4 L655.7 651.8 L653.7 651.2 L651.8 650.7 L649.9 650.1 L648.0 649.5 L646.1 648.9 L644.2 648.4 L642.2 647.8 L640.3 647.2 L638.4 646.7 L636.5 646.1 L634.6 645.5 L632.6 645.0 L630.7 644.4 L628.8 643.9 L626.9 643.3 L624.9 642.8 L623.0 642.2 L621.1 641.7 L619.2 641.1 L617.2 640.6 L615.3 640.0 L613.4 639.5 L611.5 639.0 L609.5 638.4 L607.6 637.9 L605.7 637.3 L603.7 636.8 L601.8 636.3 L599.9 635.8 L598.0 635.2 L596.0 634.7 L594.1 634.2 L592.2 633.7 L590.2 633.1 L588.3 632.6 L586.4 632.1 L584.4 631.6 L582.5 631.1 L580.6 630.6 L578.6 630.0 L576.7 629.5 L574.8 629.0 L572.8 628.5 L570.9 628.0 L568.9 627.5 L567.0 627.0 L565.1 626.5 L563.1 626.0 L561.2 625.5 L559.3 625.0 L557.3 624.5 L555.4 624.0 L553.4 623.5 L551.5 623.0 L549.6 622.6 L547.6 622.1 L545.7 621.6 L543.7 621.1 L541.8 620.6 L539.9 620.1 L537.9 619.6 L536.0 619.2 L534.0 618.7 L532.1 618.2 L530.1 617.8 L528.2 617.3 L526.3 616.8 L524.3 616.3 L522.4 615.9 L520.4 615.4 L518.5 614.9 L516.5 614.5 L514.6 614.0 L512.6 613.6 L510.7 613.1 L508.7 612.6 L506.8 612.2 L504.9 611.7 L502.9 611.3 L501.0 610.8 L499.0 610.4 L497.1 609.9 L495.1 609.4 L493.2 609.0 L491.2 608.5 L489.3 608.1 L487.3 607.6 L485.4 607.2 L483.4 606.8 L481.5 606.3 L479.5 605.9 L477.6 605.4 L475.6 605.0 L473.7 604.5 L471.7 604.1 L469.8 603.7 L467.8 603.2 L465.9 602.8 L463.9 602.3 L462.0 601.9 L460.0 601.5 L458.1 601.0 L456.1 600.6 L454.2 600.2 L452.2 599.7 L450.3 599.3 L448.3 598.9 L446.3 598.4 L444.4 598.0 L442.4 597.6 L440.5 597.2 L438.5 596.7 L436.6 596.3 L434.6 595.9 L432.7 595.5 L430.7 595.0 L428.8 594.6 L426.8 594.2 L424.9 593.8 L422.9 593.4 L420.9 592.9 L419.0 592.5 L417.0 592.1 L415.1 591.7 L413.1 591.3 L411.2 590.8 L409.2 590.4 L407.3 590.0 L405.3 589.6 L403.3 589.2 L401.4 588.8 L399.4 588.4 L397.5 588.0 L395.5 587.5 L393.6 587.1 L391.6 586.7 L389.6 586.3 L387.7 585.9 L385.7 585.5 L383.8 585.1 L381.8 584.7 L379.9 584.3 L377.9 583.9 L375.9 583.5 L374.0 583.1 L372.0 582.7 L370.1 582.3 L368.1 581.9 L366.2 581.5 L364.2 581.1 L362.2 580.7 L360.3 580.3 L358.3 579.9 L356.4 579.5 L354.4 579.1 L352.4 578.7 L350.5 578.3 L348.5 577.9 L346.6 577.5 L344.6 577.1 L342.6 576.7 L340.7 576.3 L338.7 575.9 L336.8 575.5 L334.8 575.2 L332.8 574.8 L330.9 574.4 L328.9 574.0 L327.0 573.6 L325.0 573.2 L323.0 572.8 L321.1 572.4 L319.1 572.0 L317.2 571.7 L315.2 571.3 L313.2 570.9 L311.3 570.5 L309.3 570.1 L307.3 569.7 L305.4 569.4 L303.4 569.0 L301.5 568.6 L299.5 568.2 L297.5 567.8 L295.6 567.4 L293.6 567.1 L291.6 566.7 L289.7 566.3 L287.7 565.9 L285.8 565.5 L283.8 565.2 L281.8 564.8 L279.9 564.4 L277.9 564.0 L275.9 563.7 L274.0 563.3 L272.0 562.9 L270.1 562.5 L268.1 562.2 L266.1 561.8 L264.2 561.4 L262.2 561.0 L260.2 560.7 L258.3 560.3 L256.3 559.9 L254.3 559.5 L252.4 559.2 L250.4 558.8 L248.5 558.4 L246.5 558.0 L244.5 557.7 L242.6 557.3 L240.6 556.9 L238.6 556.5 L236.7 556.2 L234.7 555.8 L232.7 555.4 L230.8 555.1 L228.8 554.7 L226.9 554.3 L224.9 553.9 L222.9 553.6 L221.0 553.2 L219.0 552.8 L217.0 552.5 L215.1 552.1 L213.1 551.7 L211.1 551.4 L209.2 551.0 L207.2 550.6 L205.2 550.3 L203.3 549.9 L201.3 549.5 L199.3 549.2 L197.4 548.8 L195.4 548.4 L193.5 548.1 L191.5 547.7 L189.5 547.4 L187.6 547.0 L185.6 546.6 L183.6 546.3 L181.7 545.9 L179.7 545.5 L177.7 545.2 L175.8 544.8 L173.8 544.5 L171.8 544.1 L169.9 543.7 L167.9 543.4 L165.9 543.0 L164.0 542.7 L162.0 542.3 L160.0 541.9 L158.1 541.6 L156.1 541.2 L154.1 540.9 L152.2 540.5 L150.2 540.2 L148.2 539.8 L146.3 539.5 L144.3 539.1 L142.3 538.7 L140.4 538.4 L138.4 538.0 L136.4 537.7 L134.5 537.3Z" fill="#117f47"/>
</g>
<!-- y labels -->
<g class="n" text-anchor="end">
<text x="126.6" y="800.2" transform="translate(126.6 0) scale(0.79 1) translate(-126.6 0)">0</text>
<text x="120.6" y="732.1" transform="translate(120.6 0) scale(0.79 1) translate(-120.6 0)">5</text>
<text x="126.0" y="676.3" transform="translate(126.0 0) scale(0.79 1) translate(-126.0 0)">10</text>
<text x="126.0" y="620.5" transform="translate(126.0 0) scale(0.79 1) translate(-126.0 0)">15</text>
<text x="126.0" y="564.6" transform="translate(126.0 0) scale(0.79 1) translate(-126.0 0)">20</text>
<text x="126.0" y="508.8" transform="translate(126.0 0) scale(0.79 1) translate(-126.0 0)">25</text>
<text x="126.0" y="452.9" transform="translate(126.0 0) scale(0.79 1) translate(-126.0 0)">30</text>
<text x="126.0" y="397.1" transform="translate(126.0 0) scale(0.79 1) translate(-126.0 0)">35</text>
<text x="126.0" y="341.2" transform="translate(126.0 0) scale(0.79 1) translate(-126.0 0)">40</text>
<text x="126.0" y="285.4" transform="translate(126.0 0) scale(0.79 1) translate(-126.0 0)">45</text>
</g>
<g class="n" text-anchor="middle">
<text x="218.4" y="813" transform="translate(218.4 0) scale(0.79 1) translate(-218.4 0)">10</text>
<text x="306.4" y="813" transform="translate(306.4 0) scale(0.79 1) translate(-306.4 0)">20</text>
<text x="394.6" y="813" transform="translate(394.6 0) scale(0.79 1) translate(-394.6 0)">30</text>
<text x="482.5" y="813" transform="translate(482.5 0) scale(0.79 1) translate(-482.5 0)">40</text>
<text x="570.8" y="813" transform="translate(570.8 0) scale(0.79 1) translate(-570.8 0)">50</text>
<text x="658.5" y="813" transform="translate(658.5 0) scale(0.79 1) translate(-658.5 0)">60</text>
<text x="747.2" y="813" transform="translate(747.2 0) scale(0.79 1) translate(-747.2 0)">70</text>
<text x="837.4" y="813" transform="translate(837.4 0) scale(0.79 1) translate(-837.4 0)">80</text>
<text x="881.6" y="813" transform="translate(881.6 0) scale(0.79 1) translate(-881.6 0)">85</text>
</g>
<line x1="561" y1="960.4" x2="628" y2="960.4" stroke="#f2a444" stroke-width="4"/>
</svg>
</body></html>
